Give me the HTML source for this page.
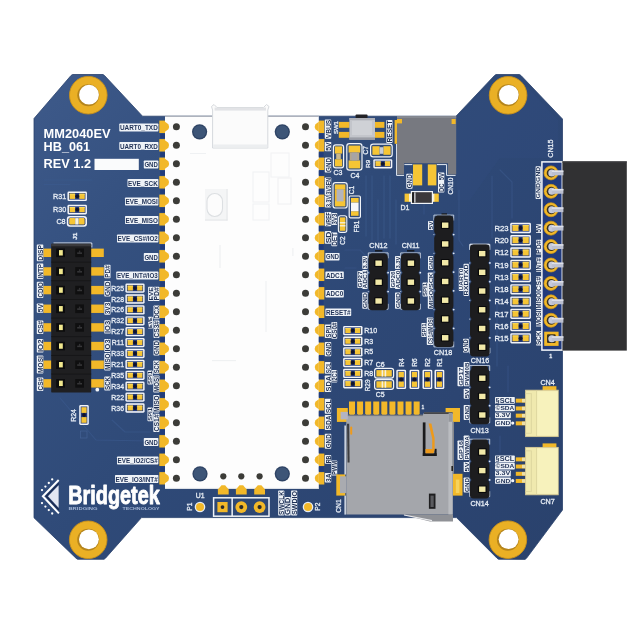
<!DOCTYPE html>
<html><head><meta charset="utf-8"><title>MM2040EV</title>
<style>html,body{margin:0;padding:0;background:#fff;}svg{display:block;filter:blur(0.4px);font-family:"Liberation Sans",sans-serif;}</style>
</head><body>
<svg width="640" height="640" viewBox="0 0 640 640" font-family="Liberation Sans, sans-serif">
<defs>
<linearGradient id="bd" gradientUnits="userSpaceOnUse" x1="40" y1="90" x2="560" y2="540"><stop offset="0" stop-color="#3d5989"/><stop offset="0.2" stop-color="#355180"/><stop offset="0.45" stop-color="#2f4a78"/><stop offset="0.75" stop-color="#2c4572"/><stop offset="1" stop-color="#2a426d"/></linearGradient>
</defs>
<rect x="0.00" y="0.00" width="640.00" height="640.00" fill="#ffffff" />
<polygon points="34,118.5 71,75.5 72.5,74.5 103,74.5 104.5,75.5 142.5,116.2 456,116.2 494.5,75.5 496,74.5 519.5,74.5 521,75.5 562.5,119 562.5,510.0 526.5,558.3 525,559.4 498.5,559.3 497,558.2 456.5,517.6 141.5,517.6 105.5,558.2 104,559.3 77.5,559.3 76,558.2 34,517.8" fill="url(#bd)" stroke="#2a416c" stroke-width="0.8" stroke-linejoin="round"/>
<path d="M44 180 H92 M44 184.5 H70 M60 398 L96 440 L150 441 M112 420 L125 432 H150" fill="none" stroke="#3d5b90" stroke-width="1.1" opacity="0.55" stroke-linecap="round" stroke-linejoin="round"/>
<path d="M366 176 V236 M372 176 V240 M378 200 V240 M384 176 V238 M390 176 V238 M396 200 V244" fill="none" stroke="#3d5b90" stroke-width="1.3" opacity="0.5" stroke-linecap="round" stroke-linejoin="round"/>
<path d="M459 190 V240 L463 246 M492 176 V238 M497 300 V366 M500 170 L512 182 V218" fill="none" stroke="#3d5b90" stroke-width="1.2" opacity="0.5" stroke-linecap="round" stroke-linejoin="round"/>
<path d="M345 250 H360 L366 256 M345 268 H356 M424 196 V214 M508 366 V392 M500 436 V452" fill="none" stroke="#3d5b90" stroke-width="1.2" opacity="0.45" stroke-linecap="round" stroke-linejoin="round"/>
<path d="M455 120 L493 80 L521 80 L558 120 L558 158 L500 158 L470 200 L457 200 Z" fill="#3d5b90" opacity="0.10"/>
<circle cx="88.30" cy="95.20" r="18.80" fill="#eab025" />
<circle cx="88.30" cy="95.20" r="18.80" fill="none" stroke="#c9911a" stroke-width="0.9"/>
<circle cx="88.30" cy="95.20" r="11.00" fill="#b5851c" />
<circle cx="89.00" cy="94.70" r="9.90" fill="#ffffff" />
<circle cx="508.10" cy="95.30" r="18.80" fill="#eab025" />
<circle cx="508.10" cy="95.30" r="18.80" fill="none" stroke="#c9911a" stroke-width="0.9"/>
<circle cx="508.10" cy="95.30" r="11.00" fill="#b5851c" />
<circle cx="508.80" cy="94.80" r="9.90" fill="#ffffff" />
<circle cx="88.20" cy="539.80" r="18.80" fill="#eab025" />
<circle cx="88.20" cy="539.80" r="18.80" fill="none" stroke="#c9911a" stroke-width="0.9"/>
<circle cx="88.20" cy="539.80" r="11.00" fill="#b5851c" />
<circle cx="88.90" cy="539.30" r="9.90" fill="#ffffff" />
<circle cx="507.90" cy="539.70" r="18.80" fill="#eab025" />
<circle cx="507.90" cy="539.70" r="18.80" fill="none" stroke="#c9911a" stroke-width="0.9"/>
<circle cx="507.90" cy="539.70" r="11.00" fill="#b5851c" />
<circle cx="508.60" cy="539.20" r="9.90" fill="#ffffff" />
<rect x="159.30" y="120.60" width="6.20" height="12.40" fill="#f2b829" />
<rect x="318.30" y="120.60" width="6.00" height="12.40" fill="#f2b829" />
<rect x="159.30" y="139.10" width="6.20" height="12.40" fill="#f2b829" />
<rect x="318.30" y="139.10" width="6.00" height="12.40" fill="#f2b829" />
<rect x="159.30" y="157.60" width="6.20" height="12.40" fill="#f2b829" />
<rect x="318.30" y="157.60" width="6.00" height="12.40" fill="#f2b829" />
<rect x="159.30" y="176.10" width="6.20" height="12.40" fill="#f2b829" />
<rect x="318.30" y="176.10" width="6.00" height="12.40" fill="#f2b829" />
<rect x="159.30" y="194.60" width="6.20" height="12.40" fill="#f2b829" />
<rect x="318.30" y="194.60" width="6.00" height="12.40" fill="#f2b829" />
<rect x="159.30" y="213.10" width="6.20" height="12.40" fill="#f2b829" />
<rect x="318.30" y="213.10" width="6.00" height="12.40" fill="#f2b829" />
<rect x="159.30" y="231.60" width="6.20" height="12.40" fill="#f2b829" />
<rect x="318.30" y="231.60" width="6.00" height="12.40" fill="#f2b829" />
<rect x="159.30" y="250.10" width="6.20" height="12.40" fill="#f2b829" />
<rect x="318.30" y="250.10" width="6.00" height="12.40" fill="#f2b829" />
<rect x="159.30" y="268.60" width="6.20" height="12.40" fill="#f2b829" />
<rect x="318.30" y="268.60" width="6.00" height="12.40" fill="#f2b829" />
<rect x="159.30" y="287.10" width="6.20" height="12.40" fill="#f2b829" />
<rect x="318.30" y="287.10" width="6.00" height="12.40" fill="#f2b829" />
<rect x="159.30" y="305.60" width="6.20" height="12.40" fill="#f2b829" />
<rect x="318.30" y="305.60" width="6.00" height="12.40" fill="#f2b829" />
<rect x="159.30" y="324.10" width="6.20" height="12.40" fill="#f2b829" />
<rect x="318.30" y="324.10" width="6.00" height="12.40" fill="#f2b829" />
<rect x="159.30" y="342.60" width="6.20" height="12.40" fill="#f2b829" />
<rect x="318.30" y="342.60" width="6.00" height="12.40" fill="#f2b829" />
<rect x="159.30" y="361.10" width="6.20" height="12.40" fill="#f2b829" />
<rect x="318.30" y="361.10" width="6.00" height="12.40" fill="#f2b829" />
<rect x="159.30" y="379.60" width="6.20" height="12.40" fill="#f2b829" />
<rect x="318.30" y="379.60" width="6.00" height="12.40" fill="#f2b829" />
<rect x="159.30" y="398.10" width="6.20" height="12.40" fill="#f2b829" />
<rect x="318.30" y="398.10" width="6.00" height="12.40" fill="#f2b829" />
<rect x="159.30" y="416.60" width="6.20" height="12.40" fill="#f2b829" />
<rect x="318.30" y="416.60" width="6.00" height="12.40" fill="#f2b829" />
<rect x="159.30" y="435.10" width="6.20" height="12.40" fill="#f2b829" />
<rect x="318.30" y="435.10" width="6.00" height="12.40" fill="#f2b829" />
<rect x="159.30" y="453.60" width="6.20" height="12.40" fill="#f2b829" />
<rect x="318.30" y="453.60" width="6.00" height="12.40" fill="#f2b829" />
<rect x="159.30" y="472.10" width="6.20" height="12.40" fill="#f2b829" />
<rect x="318.30" y="472.10" width="6.00" height="12.40" fill="#f2b829" />
<rect x="165.00" y="116.20" width="153.80" height="372.60" fill="#fdfdfd" />
<rect x="165.00" y="115.80" width="153.80" height="1.00" fill="#a3a9b3" />
<rect x="165.00" y="487.90" width="153.80" height="0.90" fill="#dfe3e8" />
<path d="M165 121.80 L168.4 124.30 Q169.8 126.80 168.4 129.30 L165 131.80 Z" fill="#f2b829"/>
<path d="M318.8 121.80 L315.4 124.30 Q314.0 126.80 315.4 129.30 L318.8 131.80 Z" fill="#f2b829"/>
<circle cx="176.40" cy="126.80" r="3.50" fill="#3c3c38" />
<circle cx="305.50" cy="126.80" r="3.50" fill="#3c3c38" />
<rect x="160.20" y="133.70" width="4.80" height="4.70" fill="#213c7c" />
<rect x="318.80" y="133.70" width="4.80" height="4.70" fill="#213c7c" />
<path d="M165 140.30 L168.4 142.80 Q169.8 145.30 168.4 147.80 L165 150.30 Z" fill="#f2b829"/>
<path d="M318.8 140.30 L315.4 142.80 Q314.0 145.30 315.4 147.80 L318.8 150.30 Z" fill="#f2b829"/>
<circle cx="176.40" cy="145.30" r="3.50" fill="#3c3c38" />
<circle cx="305.50" cy="145.30" r="3.50" fill="#3c3c38" />
<rect x="160.20" y="152.20" width="4.80" height="4.70" fill="#213c7c" />
<rect x="318.80" y="152.20" width="4.80" height="4.70" fill="#213c7c" />
<path d="M165 158.80 L168.4 161.30 Q169.8 163.80 168.4 166.30 L165 168.80 Z" fill="#f2b829"/>
<path d="M318.8 158.80 L315.4 161.30 Q314.0 163.80 315.4 166.30 L318.8 168.80 Z" fill="#f2b829"/>
<circle cx="176.40" cy="163.80" r="3.50" fill="#3c3c38" />
<circle cx="305.50" cy="163.80" r="3.50" fill="#3c3c38" />
<rect x="160.20" y="170.70" width="4.80" height="4.70" fill="#213c7c" />
<rect x="318.80" y="170.70" width="4.80" height="4.70" fill="#213c7c" />
<path d="M165 177.30 L168.4 179.80 Q169.8 182.30 168.4 184.80 L165 187.30 Z" fill="#f2b829"/>
<path d="M318.8 177.30 L315.4 179.80 Q314.0 182.30 315.4 184.80 L318.8 187.30 Z" fill="#f2b829"/>
<circle cx="176.40" cy="182.30" r="3.50" fill="#3c3c38" />
<circle cx="305.50" cy="182.30" r="3.50" fill="#3c3c38" />
<rect x="160.20" y="189.20" width="4.80" height="4.70" fill="#213c7c" />
<rect x="318.80" y="189.20" width="4.80" height="4.70" fill="#213c7c" />
<path d="M165 195.80 L168.4 198.30 Q169.8 200.80 168.4 203.30 L165 205.80 Z" fill="#f2b829"/>
<path d="M318.8 195.80 L315.4 198.30 Q314.0 200.80 315.4 203.30 L318.8 205.80 Z" fill="#f2b829"/>
<circle cx="176.40" cy="200.80" r="3.50" fill="#3c3c38" />
<circle cx="305.50" cy="200.80" r="3.50" fill="#3c3c38" />
<rect x="160.20" y="207.70" width="4.80" height="4.70" fill="#213c7c" />
<rect x="318.80" y="207.70" width="4.80" height="4.70" fill="#213c7c" />
<path d="M165 214.30 L168.4 216.80 Q169.8 219.30 168.4 221.80 L165 224.30 Z" fill="#f2b829"/>
<path d="M318.8 214.30 L315.4 216.80 Q314.0 219.30 315.4 221.80 L318.8 224.30 Z" fill="#f2b829"/>
<circle cx="176.40" cy="219.30" r="3.50" fill="#3c3c38" />
<circle cx="305.50" cy="219.30" r="3.50" fill="#3c3c38" />
<rect x="160.20" y="226.20" width="4.80" height="4.70" fill="#213c7c" />
<rect x="318.80" y="226.20" width="4.80" height="4.70" fill="#213c7c" />
<path d="M165 232.80 L168.4 235.30 Q169.8 237.80 168.4 240.30 L165 242.80 Z" fill="#f2b829"/>
<path d="M318.8 232.80 L315.4 235.30 Q314.0 237.80 315.4 240.30 L318.8 242.80 Z" fill="#f2b829"/>
<circle cx="176.40" cy="237.80" r="3.50" fill="#3c3c38" />
<circle cx="305.50" cy="237.80" r="3.50" fill="#3c3c38" />
<rect x="160.20" y="244.70" width="4.80" height="4.70" fill="#213c7c" />
<rect x="318.80" y="244.70" width="4.80" height="4.70" fill="#213c7c" />
<path d="M165 251.30 L168.4 253.80 Q169.8 256.30 168.4 258.80 L165 261.30 Z" fill="#f2b829"/>
<path d="M318.8 251.30 L315.4 253.80 Q314.0 256.30 315.4 258.80 L318.8 261.30 Z" fill="#f2b829"/>
<circle cx="176.40" cy="256.30" r="3.50" fill="#3c3c38" />
<circle cx="305.50" cy="256.30" r="3.50" fill="#3c3c38" />
<rect x="160.20" y="263.20" width="4.80" height="4.70" fill="#213c7c" />
<rect x="318.80" y="263.20" width="4.80" height="4.70" fill="#213c7c" />
<path d="M165 269.80 L168.4 272.30 Q169.8 274.80 168.4 277.30 L165 279.80 Z" fill="#f2b829"/>
<path d="M318.8 269.80 L315.4 272.30 Q314.0 274.80 315.4 277.30 L318.8 279.80 Z" fill="#f2b829"/>
<circle cx="176.40" cy="274.80" r="3.50" fill="#3c3c38" />
<circle cx="305.50" cy="274.80" r="3.50" fill="#3c3c38" />
<rect x="160.20" y="281.70" width="4.80" height="4.70" fill="#213c7c" />
<rect x="318.80" y="281.70" width="4.80" height="4.70" fill="#213c7c" />
<path d="M165 288.30 L168.4 290.80 Q169.8 293.30 168.4 295.80 L165 298.30 Z" fill="#f2b829"/>
<path d="M318.8 288.30 L315.4 290.80 Q314.0 293.30 315.4 295.80 L318.8 298.30 Z" fill="#f2b829"/>
<circle cx="176.40" cy="293.30" r="3.50" fill="#3c3c38" />
<circle cx="305.50" cy="293.30" r="3.50" fill="#3c3c38" />
<rect x="160.20" y="300.20" width="4.80" height="4.70" fill="#213c7c" />
<rect x="318.80" y="300.20" width="4.80" height="4.70" fill="#213c7c" />
<path d="M165 306.80 L168.4 309.30 Q169.8 311.80 168.4 314.30 L165 316.80 Z" fill="#f2b829"/>
<path d="M318.8 306.80 L315.4 309.30 Q314.0 311.80 315.4 314.30 L318.8 316.80 Z" fill="#f2b829"/>
<circle cx="176.40" cy="311.80" r="3.50" fill="#3c3c38" />
<circle cx="305.50" cy="311.80" r="3.50" fill="#3c3c38" />
<rect x="160.20" y="318.70" width="4.80" height="4.70" fill="#213c7c" />
<rect x="318.80" y="318.70" width="4.80" height="4.70" fill="#213c7c" />
<path d="M165 325.30 L168.4 327.80 Q169.8 330.30 168.4 332.80 L165 335.30 Z" fill="#f2b829"/>
<path d="M318.8 325.30 L315.4 327.80 Q314.0 330.30 315.4 332.80 L318.8 335.30 Z" fill="#f2b829"/>
<circle cx="176.40" cy="330.30" r="3.50" fill="#3c3c38" />
<circle cx="305.50" cy="330.30" r="3.50" fill="#3c3c38" />
<rect x="160.20" y="337.20" width="4.80" height="4.70" fill="#213c7c" />
<rect x="318.80" y="337.20" width="4.80" height="4.70" fill="#213c7c" />
<path d="M165 343.80 L168.4 346.30 Q169.8 348.80 168.4 351.30 L165 353.80 Z" fill="#f2b829"/>
<path d="M318.8 343.80 L315.4 346.30 Q314.0 348.80 315.4 351.30 L318.8 353.80 Z" fill="#f2b829"/>
<circle cx="176.40" cy="348.80" r="3.50" fill="#3c3c38" />
<circle cx="305.50" cy="348.80" r="3.50" fill="#3c3c38" />
<rect x="160.20" y="355.70" width="4.80" height="4.70" fill="#213c7c" />
<rect x="318.80" y="355.70" width="4.80" height="4.70" fill="#213c7c" />
<path d="M165 362.30 L168.4 364.80 Q169.8 367.30 168.4 369.80 L165 372.30 Z" fill="#f2b829"/>
<path d="M318.8 362.30 L315.4 364.80 Q314.0 367.30 315.4 369.80 L318.8 372.30 Z" fill="#f2b829"/>
<circle cx="176.40" cy="367.30" r="3.50" fill="#3c3c38" />
<circle cx="305.50" cy="367.30" r="3.50" fill="#3c3c38" />
<rect x="160.20" y="374.20" width="4.80" height="4.70" fill="#213c7c" />
<rect x="318.80" y="374.20" width="4.80" height="4.70" fill="#213c7c" />
<path d="M165 380.80 L168.4 383.30 Q169.8 385.80 168.4 388.30 L165 390.80 Z" fill="#f2b829"/>
<path d="M318.8 380.80 L315.4 383.30 Q314.0 385.80 315.4 388.30 L318.8 390.80 Z" fill="#f2b829"/>
<circle cx="176.40" cy="385.80" r="3.50" fill="#3c3c38" />
<circle cx="305.50" cy="385.80" r="3.50" fill="#3c3c38" />
<rect x="160.20" y="392.70" width="4.80" height="4.70" fill="#213c7c" />
<rect x="318.80" y="392.70" width="4.80" height="4.70" fill="#213c7c" />
<path d="M165 399.30 L168.4 401.80 Q169.8 404.30 168.4 406.80 L165 409.30 Z" fill="#f2b829"/>
<path d="M318.8 399.30 L315.4 401.80 Q314.0 404.30 315.4 406.80 L318.8 409.30 Z" fill="#f2b829"/>
<circle cx="176.40" cy="404.30" r="3.50" fill="#3c3c38" />
<circle cx="305.50" cy="404.30" r="3.50" fill="#3c3c38" />
<rect x="160.20" y="411.20" width="4.80" height="4.70" fill="#213c7c" />
<rect x="318.80" y="411.20" width="4.80" height="4.70" fill="#213c7c" />
<path d="M165 417.80 L168.4 420.30 Q169.8 422.80 168.4 425.30 L165 427.80 Z" fill="#f2b829"/>
<path d="M318.8 417.80 L315.4 420.30 Q314.0 422.80 315.4 425.30 L318.8 427.80 Z" fill="#f2b829"/>
<circle cx="176.40" cy="422.80" r="3.50" fill="#3c3c38" />
<circle cx="305.50" cy="422.80" r="3.50" fill="#3c3c38" />
<rect x="160.20" y="429.70" width="4.80" height="4.70" fill="#213c7c" />
<rect x="318.80" y="429.70" width="4.80" height="4.70" fill="#213c7c" />
<path d="M165 436.30 L168.4 438.80 Q169.8 441.30 168.4 443.80 L165 446.30 Z" fill="#f2b829"/>
<path d="M318.8 436.30 L315.4 438.80 Q314.0 441.30 315.4 443.80 L318.8 446.30 Z" fill="#f2b829"/>
<circle cx="176.40" cy="441.30" r="3.50" fill="#3c3c38" />
<circle cx="305.50" cy="441.30" r="3.50" fill="#3c3c38" />
<rect x="160.20" y="448.20" width="4.80" height="4.70" fill="#213c7c" />
<rect x="318.80" y="448.20" width="4.80" height="4.70" fill="#213c7c" />
<path d="M165 454.80 L168.4 457.30 Q169.8 459.80 168.4 462.30 L165 464.80 Z" fill="#f2b829"/>
<path d="M318.8 454.80 L315.4 457.30 Q314.0 459.80 315.4 462.30 L318.8 464.80 Z" fill="#f2b829"/>
<circle cx="176.40" cy="459.80" r="3.50" fill="#3c3c38" />
<circle cx="305.50" cy="459.80" r="3.50" fill="#3c3c38" />
<rect x="160.20" y="466.70" width="4.80" height="4.70" fill="#213c7c" />
<rect x="318.80" y="466.70" width="4.80" height="4.70" fill="#213c7c" />
<path d="M165 473.30 L168.4 475.80 Q169.8 478.30 168.4 480.80 L165 483.30 Z" fill="#f2b829"/>
<path d="M318.8 473.30 L315.4 475.80 Q314.0 478.30 315.4 480.80 L318.8 483.30 Z" fill="#f2b829"/>
<circle cx="176.40" cy="478.30" r="3.50" fill="#3c3c38" />
<circle cx="305.50" cy="478.30" r="3.50" fill="#3c3c38" />
<circle cx="199.60" cy="131.80" r="7.60" fill="#2e4364" />
<circle cx="199.60" cy="131.80" r="6.30" fill="#3d5577" />
<circle cx="282.30" cy="131.80" r="7.60" fill="#2e4364" />
<circle cx="282.30" cy="131.80" r="6.30" fill="#3d5577" />
<circle cx="200.00" cy="473.80" r="7.60" fill="#2e4364" />
<circle cx="200.00" cy="473.80" r="6.30" fill="#3d5577" />
<circle cx="282.30" cy="473.80" r="7.60" fill="#2e4364" />
<circle cx="282.30" cy="473.80" r="6.30" fill="#3d5577" />
<path d="M211.5 106.5 L214 104.5 L217 107.5 L263.5 107.5 L266.5 104.5 L269 106.5 L267.8 110 L267.8 148 L212.6 148 L212.6 110 Z" fill="#fbfbfb" stroke="#d6d9dd" stroke-width="1"/>
<rect x="213.20" y="144.50" width="54.20" height="3.20" fill="#eceef0" />
<rect x="214.60" y="107.60" width="51.40" height="3.00" fill="#e2e3e6" />
<rect x="205.00" y="189.00" width="22.50" height="31.50" fill="#f4f5f6" />
<rect x="207" y="193.5" width="15.5" height="23" rx="7.7" fill="#fcfcfc" stroke="#dcdfe2" stroke-width="1.1"/>
<rect x="226.60" y="189.00" width="0.90" height="31.50" fill="#e2e4e7" />
<rect x="205.00" y="219.60" width="22.50" height="0.90" fill="#e2e4e7" />
<rect x="253" y="172" width="16" height="30" rx="0" fill="none" stroke="#f0f1f3" stroke-width="1.0"/>
<rect x="253" y="204" width="16" height="16" rx="0" fill="none" stroke="#f0f1f3" stroke-width="1.0"/>
<rect x="278" y="178" width="13" height="26" rx="0" fill="none" stroke="#eff0f2" stroke-width="1.0"/>
<rect x="271" y="153" width="18" height="24" rx="0" fill="none" stroke="#f1f2f4" stroke-width="1.0"/>
<rect x="219.60" y="245.00" width="0.80" height="23.00" fill="#e6e8ea" />
<rect x="265.60" y="281.00" width="0.80" height="51.00" fill="#e9ebed" />
<rect x="212.00" y="360.30" width="24.00" height="0.80" fill="#e9ebed" />
<rect x="190.00" y="153.00" width="16.00" height="0.80" fill="#eceef0" />
<rect x="292.50" y="248.00" width="0.80" height="8.00" fill="#e9ebed" />
<circle cx="223.30" cy="476.30" r="3.10" fill="#3c3c38" />
<path d="M217.90 494.6 L217.90 489.6 L221.50 485.3 L225.10 485.3 L228.70 489.6 L228.70 494.6 Z" fill="#f2b829"/>
<circle cx="241.30" cy="476.30" r="3.10" fill="#3c3c38" />
<path d="M235.90 494.6 L235.90 489.6 L239.50 485.3 L243.10 485.3 L246.70 489.6 L246.70 494.6 Z" fill="#f2b829"/>
<circle cx="259.60" cy="476.30" r="3.10" fill="#3c3c38" />
<path d="M254.20 494.6 L254.20 489.6 L257.80 485.3 L261.40 485.3 L265.00 489.6 L265.00 494.6 Z" fill="#f2b829"/>
<text x="43.60" y="137.60" font-size="12.6" fill="#ffffff" text-anchor="start" font-weight="bold" textLength="67.00" lengthAdjust="spacingAndGlyphs" >MM2040EV</text>
<text x="43.60" y="150.60" font-size="12.6" fill="#ffffff" text-anchor="start" font-weight="bold" textLength="46.50" lengthAdjust="spacingAndGlyphs" >HB_061</text>
<text x="43.60" y="168.20" font-size="12.6" fill="#ffffff" text-anchor="start" font-weight="bold" textLength="47.50" lengthAdjust="spacingAndGlyphs" >REV 1.2</text>
<rect x="94.50" y="158.80" width="44.30" height="11.20" fill="#fafbfc" />
<rect x="119.30" y="123.50" width="39.10" height="8.00" fill="#eef2f7" rx="0.7"/>
<text x="138.85" y="130.35" font-size="7.96" fill="#1f3156" text-anchor="middle" font-weight="bold" textLength="37.90" lengthAdjust="spacingAndGlyphs" >UART0_TXD</text>
<rect x="119.30" y="142.00" width="39.10" height="8.00" fill="#eef2f7" rx="0.7"/>
<text x="138.85" y="148.85" font-size="7.96" fill="#1f3156" text-anchor="middle" font-weight="bold" textLength="37.90" lengthAdjust="spacingAndGlyphs" >UART0_RXD</text>
<rect x="143.80" y="160.50" width="14.60" height="8.00" fill="#eef2f7" rx="0.7"/>
<text x="151.10" y="167.35" font-size="7.96" fill="#1f3156" text-anchor="middle" font-weight="bold" textLength="13.40" lengthAdjust="spacingAndGlyphs" >GND</text>
<rect x="127.50" y="179.00" width="30.90" height="8.00" fill="#eef2f7" rx="0.7"/>
<text x="142.95" y="185.85" font-size="7.96" fill="#1f3156" text-anchor="middle" font-weight="bold" textLength="29.70" lengthAdjust="spacingAndGlyphs" >EVE_SCK</text>
<rect x="125.00" y="197.50" width="33.40" height="8.00" fill="#eef2f7" rx="0.7"/>
<text x="141.70" y="204.35" font-size="7.96" fill="#1f3156" text-anchor="middle" font-weight="bold" textLength="32.20" lengthAdjust="spacingAndGlyphs" >EVE_MOSI</text>
<rect x="125.00" y="216.00" width="33.40" height="8.00" fill="#eef2f7" rx="0.7"/>
<text x="141.70" y="222.85" font-size="7.96" fill="#1f3156" text-anchor="middle" font-weight="bold" textLength="32.20" lengthAdjust="spacingAndGlyphs" >EVE_MISO</text>
<rect x="117.00" y="234.50" width="41.40" height="8.00" fill="#eef2f7" rx="0.7"/>
<text x="137.70" y="241.35" font-size="7.96" fill="#1f3156" text-anchor="middle" font-weight="bold" textLength="40.20" lengthAdjust="spacingAndGlyphs" >EVE_CS#/IO2</text>
<rect x="143.80" y="253.00" width="14.60" height="8.00" fill="#eef2f7" rx="0.7"/>
<text x="151.10" y="259.85" font-size="7.96" fill="#1f3156" text-anchor="middle" font-weight="bold" textLength="13.40" lengthAdjust="spacingAndGlyphs" >GND</text>
<rect x="116.30" y="271.50" width="42.10" height="8.00" fill="#eef2f7" rx="0.7"/>
<text x="137.35" y="278.35" font-size="7.96" fill="#1f3156" text-anchor="middle" font-weight="bold" textLength="40.90" lengthAdjust="spacingAndGlyphs" >EVE_INT#/IO3</text>
<rect x="143.80" y="438.00" width="14.60" height="8.00" fill="#eef2f7" rx="0.7"/>
<text x="151.10" y="444.85" font-size="7.96" fill="#1f3156" text-anchor="middle" font-weight="bold" textLength="13.40" lengthAdjust="spacingAndGlyphs" >GND</text>
<rect x="117.00" y="456.50" width="41.40" height="8.00" fill="#eef2f7" rx="0.7"/>
<text x="137.70" y="463.35" font-size="7.96" fill="#1f3156" text-anchor="middle" font-weight="bold" textLength="40.20" lengthAdjust="spacingAndGlyphs" >EVE_IO2/CS#</text>
<rect x="115.00" y="475.00" width="43.40" height="8.00" fill="#eef2f7" rx="0.7"/>
<text x="136.70" y="481.85" font-size="7.96" fill="#1f3156" text-anchor="middle" font-weight="bold" textLength="42.20" lengthAdjust="spacingAndGlyphs" >EVE_IO3/INT#</text>
<rect x="148.10" y="286.80" width="5.70" height="14.30" fill="#eef2f7" rx="0.7"/>
<text transform="translate(150.95,293.95) rotate(-90)" x="0" y="2.20" font-size="6.15" fill="#1f3156" text-anchor="middle" font-weight="bold" textLength="13.30" lengthAdjust="spacingAndGlyphs">EVE</text>
<rect x="153.60" y="286.80" width="5.80" height="14.30" fill="#eef2f7" rx="0.7"/>
<text transform="translate(156.50,293.95) rotate(-90)" x="0" y="2.25" font-size="6.28" fill="#1f3156" text-anchor="middle" font-weight="bold" textLength="13.30" lengthAdjust="spacingAndGlyphs">PD#</text>
<rect x="153.50" y="305.50" width="5.90" height="13.80" fill="#eef2f7" rx="0.7"/>
<text transform="translate(156.45,312.40) rotate(-90)" x="0" y="2.30" font-size="6.42" fill="#1f3156" text-anchor="middle" font-weight="bold" textLength="12.80" lengthAdjust="spacingAndGlyphs">DCX</text>
<rect x="148.10" y="316.80" width="4.80" height="11.80" fill="#eef2f7" rx="0.7"/>
<text transform="translate(150.50,322.70) rotate(-90)" x="0" y="1.75" font-size="4.89" fill="#1f3156" text-anchor="middle" font-weight="bold" textLength="10.80" lengthAdjust="spacingAndGlyphs">EVE</text>
<rect x="153.50" y="320.50" width="5.90" height="17.50" fill="#eef2f7" rx="0.7"/>
<text transform="translate(156.45,329.25) rotate(-90)" x="0" y="2.30" font-size="6.42" fill="#1f3156" text-anchor="middle" font-weight="bold" textLength="16.50" lengthAdjust="spacingAndGlyphs">CS3#</text>
<rect x="153.50" y="340.50" width="5.90" height="15.00" fill="#eef2f7" rx="0.7"/>
<text transform="translate(156.45,348.00) rotate(-90)" x="0" y="2.30" font-size="6.42" fill="#1f3156" text-anchor="middle" font-weight="bold" textLength="14.00" lengthAdjust="spacingAndGlyphs">GND</text>
<rect x="153.30" y="360.60" width="6.10" height="13.20" fill="#eef2f7" rx="0.7"/>
<text transform="translate(156.35,367.20) rotate(-90)" x="0" y="2.40" font-size="6.7" fill="#1f3156" text-anchor="middle" font-weight="bold" textLength="12.20" lengthAdjust="spacingAndGlyphs">SCK</text>
<rect x="147.50" y="370.60" width="5.30" height="13.80" fill="#eef2f7" rx="0.7"/>
<text transform="translate(150.15,377.50) rotate(-90)" x="0" y="2.00" font-size="5.59" fill="#1f3156" text-anchor="middle" font-weight="bold" textLength="12.80" lengthAdjust="spacingAndGlyphs">SPI1</text>
<rect x="153.30" y="375.60" width="6.10" height="16.90" fill="#eef2f7" rx="0.7"/>
<text transform="translate(156.35,384.05) rotate(-90)" x="0" y="2.40" font-size="6.7" fill="#1f3156" text-anchor="middle" font-weight="bold" textLength="15.90" lengthAdjust="spacingAndGlyphs">MOSI</text>
<rect x="153.30" y="395.00" width="6.10" height="17.50" fill="#eef2f7" rx="0.7"/>
<text transform="translate(156.35,403.75) rotate(-90)" x="0" y="2.40" font-size="6.7" fill="#1f3156" text-anchor="middle" font-weight="bold" textLength="16.50" lengthAdjust="spacingAndGlyphs">MISO</text>
<rect x="147.50" y="407.50" width="5.30" height="13.80" fill="#eef2f7" rx="0.7"/>
<text transform="translate(150.15,414.40) rotate(-90)" x="0" y="2.00" font-size="5.59" fill="#1f3156" text-anchor="middle" font-weight="bold" textLength="12.80" lengthAdjust="spacingAndGlyphs">SPI1</text>
<rect x="153.30" y="413.80" width="6.10" height="18.20" fill="#eef2f7" rx="0.7"/>
<text transform="translate(156.35,422.90) rotate(-90)" x="0" y="2.40" font-size="6.7" fill="#1f3156" text-anchor="middle" font-weight="bold" textLength="17.20" lengthAdjust="spacingAndGlyphs">CS1#</text>
<text x="66.30" y="198.90" font-size="7.2" fill="#e6ecf4" text-anchor="end" font-weight="normal" stroke="#e6ecf4" stroke-width="0.3">R31</text>
<rect x="67.45" y="191.50" width="19.50" height="9.60" fill="#f3f5f9" rx="1.4"/>
<rect x="68.95" y="193.00" width="16.50" height="6.60" fill="#22387a" />
<rect x="69.65" y="193.70" width="5.45" height="5.20" fill="#f6c535" />
<rect x="79.30" y="193.70" width="5.45" height="5.20" fill="#f6c535" />
<rect x="69.65" y="193.70" width="5.45" height="1.00" fill="#f9d858" />
<rect x="79.30" y="193.70" width="5.45" height="1.00" fill="#f9d858" />
<circle cx="77.20" cy="196.30" r="1.90" fill="#12142a" />
<text x="66.30" y="212.20" font-size="7.2" fill="#e6ecf4" text-anchor="end" font-weight="normal" stroke="#e6ecf4" stroke-width="0.3">R30</text>
<rect x="67.45" y="204.80" width="19.50" height="9.60" fill="#f3f5f9" rx="1.4"/>
<rect x="68.95" y="206.30" width="16.50" height="6.60" fill="#22387a" />
<rect x="69.65" y="207.00" width="5.45" height="5.20" fill="#f6c535" />
<rect x="79.30" y="207.00" width="5.45" height="5.20" fill="#f6c535" />
<rect x="69.65" y="207.00" width="5.45" height="1.00" fill="#f9d858" />
<rect x="79.30" y="207.00" width="5.45" height="1.00" fill="#f9d858" />
<circle cx="77.20" cy="209.60" r="1.90" fill="#12142a" />
<text x="65.60" y="224.00" font-size="7.2" fill="#e6ecf4" text-anchor="end" font-weight="normal" stroke="#e6ecf4" stroke-width="0.3">C8</text>
<rect x="66.80" y="215.90" width="20.20" height="10.90" fill="#f3f5f9" rx="3"/>
<rect x="68.40" y="217.50" width="17.00" height="7.70" fill="#22387a" rx="1.8"/>
<rect x="69.20" y="218.10" width="6.00" height="6.50" fill="#f6c535" rx="0.8"/>
<rect x="78.60" y="218.10" width="6.00" height="6.50" fill="#f6c535" rx="0.8"/>
<rect x="75.20" y="218.10" width="3.40" height="6.50" fill="#f6f1dc" />
<text transform="translate(74.40,236.20) rotate(-90)" x="0" y="2.22" font-size="6.2" fill="#e6ecf4" text-anchor="middle" font-weight="bold" stroke="#e6ecf4" stroke-width="0.3">J1</text>
<rect x="43.40" y="248.60" width="8.20" height="8.40" fill="#f2b829" />
<rect x="90.80" y="248.60" width="13.00" height="8.40" fill="#f2b829" />
<rect x="43.40" y="267.25" width="8.20" height="8.40" fill="#f2b829" />
<rect x="90.80" y="267.25" width="13.00" height="8.40" fill="#f2b829" />
<rect x="43.40" y="285.90" width="8.20" height="8.40" fill="#f2b829" />
<rect x="90.80" y="285.90" width="13.00" height="8.40" fill="#f2b829" />
<rect x="43.40" y="304.55" width="8.20" height="8.40" fill="#f2b829" />
<rect x="90.80" y="304.55" width="13.00" height="8.40" fill="#f2b829" />
<rect x="43.40" y="323.20" width="8.20" height="8.40" fill="#f2b829" />
<rect x="90.80" y="323.20" width="13.00" height="8.40" fill="#f2b829" />
<rect x="43.40" y="341.85" width="8.20" height="8.40" fill="#f2b829" />
<rect x="90.80" y="341.85" width="13.00" height="8.40" fill="#f2b829" />
<rect x="43.40" y="360.50" width="8.20" height="8.40" fill="#f2b829" />
<rect x="90.80" y="360.50" width="13.00" height="8.40" fill="#f2b829" />
<rect x="43.40" y="379.15" width="8.20" height="8.40" fill="#f2b829" />
<rect x="90.80" y="379.15" width="13.00" height="8.40" fill="#f2b829" />
<path d="M53.5 243.0 L91.8 243.0 L91.8 247.5" fill="none" stroke="#e6ecf4" stroke-width="1"/>
<rect x="51.20" y="243.70" width="40.00" height="148.90" fill="#1f1f21" rx="1.2"/>
<rect x="51.20" y="243.70" width="40.00" height="2.60" fill="#3a3a3d" />
<rect x="56.20" y="248.50" width="8.80" height="8.60" fill="#0b0b0c" />
<rect x="59.00" y="250.10" width="3.80" height="5.40" fill="#f1e88e" />
<rect x="75.20" y="248.50" width="8.80" height="8.60" fill="#0f0f10" />
<rect x="77.20" y="252.40" width="4.80" height="1.50" fill="#38383a" />
<rect x="78.90" y="250.60" width="1.40" height="2.40" fill="#303032" />
<rect x="51.20" y="261.73" width="40.00" height="0.80" fill="#151516" />
<rect x="56.20" y="267.15" width="8.80" height="8.60" fill="#0b0b0c" />
<rect x="59.00" y="268.75" width="3.80" height="5.40" fill="#f1e88e" />
<rect x="75.20" y="267.15" width="8.80" height="8.60" fill="#0f0f10" />
<rect x="77.20" y="271.05" width="4.80" height="1.50" fill="#38383a" />
<rect x="78.90" y="269.25" width="1.40" height="2.40" fill="#303032" />
<rect x="51.20" y="280.38" width="40.00" height="0.80" fill="#151516" />
<rect x="56.20" y="285.80" width="8.80" height="8.60" fill="#0b0b0c" />
<rect x="59.00" y="287.40" width="3.80" height="5.40" fill="#f1e88e" />
<rect x="75.20" y="285.80" width="8.80" height="8.60" fill="#0f0f10" />
<rect x="77.20" y="289.70" width="4.80" height="1.50" fill="#38383a" />
<rect x="78.90" y="287.90" width="1.40" height="2.40" fill="#303032" />
<rect x="51.20" y="299.03" width="40.00" height="0.80" fill="#151516" />
<rect x="56.20" y="304.45" width="8.80" height="8.60" fill="#0b0b0c" />
<rect x="59.00" y="306.05" width="3.80" height="5.40" fill="#f1e88e" />
<rect x="75.20" y="304.45" width="8.80" height="8.60" fill="#0f0f10" />
<rect x="77.20" y="308.35" width="4.80" height="1.50" fill="#38383a" />
<rect x="78.90" y="306.55" width="1.40" height="2.40" fill="#303032" />
<rect x="51.20" y="317.68" width="40.00" height="0.80" fill="#151516" />
<rect x="56.20" y="323.10" width="8.80" height="8.60" fill="#0b0b0c" />
<rect x="59.00" y="324.70" width="3.80" height="5.40" fill="#f1e88e" />
<rect x="75.20" y="323.10" width="8.80" height="8.60" fill="#0f0f10" />
<rect x="77.20" y="327.00" width="4.80" height="1.50" fill="#38383a" />
<rect x="78.90" y="325.20" width="1.40" height="2.40" fill="#303032" />
<rect x="51.20" y="336.32" width="40.00" height="0.80" fill="#151516" />
<rect x="56.20" y="341.75" width="8.80" height="8.60" fill="#0b0b0c" />
<rect x="59.00" y="343.35" width="3.80" height="5.40" fill="#f1e88e" />
<rect x="75.20" y="341.75" width="8.80" height="8.60" fill="#0f0f10" />
<rect x="77.20" y="345.65" width="4.80" height="1.50" fill="#38383a" />
<rect x="78.90" y="343.85" width="1.40" height="2.40" fill="#303032" />
<rect x="51.20" y="354.98" width="40.00" height="0.80" fill="#151516" />
<rect x="56.20" y="360.40" width="8.80" height="8.60" fill="#0b0b0c" />
<rect x="59.00" y="362.00" width="3.80" height="5.40" fill="#f1e88e" />
<rect x="75.20" y="360.40" width="8.80" height="8.60" fill="#0f0f10" />
<rect x="77.20" y="364.30" width="4.80" height="1.50" fill="#38383a" />
<rect x="78.90" y="362.50" width="1.40" height="2.40" fill="#303032" />
<rect x="51.20" y="373.62" width="40.00" height="0.80" fill="#151516" />
<rect x="56.20" y="379.05" width="8.80" height="8.60" fill="#0b0b0c" />
<rect x="59.00" y="380.65" width="3.80" height="5.40" fill="#f1e88e" />
<rect x="75.20" y="379.05" width="8.80" height="8.60" fill="#0f0f10" />
<rect x="77.20" y="382.95" width="4.80" height="1.50" fill="#38383a" />
<rect x="78.90" y="381.15" width="1.40" height="2.40" fill="#303032" />
<rect x="36.80" y="244.40" width="6.50" height="16.90" fill="#eef2f7" rx="0.7"/>
<text transform="translate(40.05,252.85) rotate(-90)" x="0" y="2.60" font-size="7.26" fill="#1f3156" text-anchor="middle" font-weight="bold" textLength="15.90" lengthAdjust="spacingAndGlyphs">DISP</text>
<rect x="36.80" y="263.40" width="6.50" height="15.50" fill="#eef2f7" rx="0.7"/>
<text transform="translate(40.05,271.15) rotate(-90)" x="0" y="2.60" font-size="7.26" fill="#1f3156" text-anchor="middle" font-weight="bold" textLength="14.50" lengthAdjust="spacingAndGlyphs">INTP</text>
<rect x="36.80" y="281.70" width="6.50" height="16.20" fill="#eef2f7" rx="0.7"/>
<text transform="translate(40.05,289.80) rotate(-90)" x="0" y="2.60" font-size="7.26" fill="#1f3156" text-anchor="middle" font-weight="bold" textLength="15.20" lengthAdjust="spacingAndGlyphs">CDIO</text>
<rect x="36.80" y="303.50" width="6.50" height="9.20" fill="#eef2f7" rx="0.7"/>
<text transform="translate(40.05,308.10) rotate(-90)" x="0" y="2.60" font-size="7.26" fill="#1f3156" text-anchor="middle" font-weight="bold" textLength="8.20" lengthAdjust="spacingAndGlyphs">5V</text>
<rect x="36.80" y="320.50" width="6.50" height="13.50" fill="#eef2f7" rx="0.7"/>
<text transform="translate(40.05,327.25) rotate(-90)" x="0" y="2.60" font-size="7.26" fill="#1f3156" text-anchor="middle" font-weight="bold" textLength="12.50" lengthAdjust="spacingAndGlyphs">CS#</text>
<rect x="36.80" y="339.00" width="6.50" height="13.60" fill="#eef2f7" rx="0.7"/>
<text transform="translate(40.05,345.80) rotate(-90)" x="0" y="2.60" font-size="7.26" fill="#1f3156" text-anchor="middle" font-weight="bold" textLength="12.60" lengthAdjust="spacingAndGlyphs">IO2</text>
<rect x="36.80" y="355.60" width="6.50" height="17.80" fill="#eef2f7" rx="0.7"/>
<text transform="translate(40.05,364.50) rotate(-90)" x="0" y="2.60" font-size="7.26" fill="#1f3156" text-anchor="middle" font-weight="bold" textLength="16.80" lengthAdjust="spacingAndGlyphs">MOSI</text>
<rect x="36.80" y="377.50" width="6.50" height="13.50" fill="#eef2f7" rx="0.7"/>
<text transform="translate(40.05,384.25) rotate(-90)" x="0" y="2.60" font-size="7.26" fill="#1f3156" text-anchor="middle" font-weight="bold" textLength="12.50" lengthAdjust="spacingAndGlyphs">CS#</text>
<rect x="104.30" y="264.80" width="6.20" height="13.40" fill="#eef2f7" rx="0.7"/>
<text transform="translate(107.40,271.50) rotate(-90)" x="0" y="2.45" font-size="6.84" fill="#1f3156" text-anchor="middle" font-weight="bold" textLength="12.40" lengthAdjust="spacingAndGlyphs">PD#</text>
<rect x="104.30" y="281.00" width="6.20" height="15.50" fill="#eef2f7" rx="0.7"/>
<text transform="translate(107.40,288.75) rotate(-90)" x="0" y="2.45" font-size="6.84" fill="#1f3156" text-anchor="middle" font-weight="bold" textLength="14.50" lengthAdjust="spacingAndGlyphs">GND</text>
<rect x="104.30" y="302.10" width="6.20" height="12.70" fill="#eef2f7" rx="0.7"/>
<text transform="translate(107.40,308.45) rotate(-90)" x="0" y="2.45" font-size="6.84" fill="#1f3156" text-anchor="middle" font-weight="bold" textLength="11.70" lengthAdjust="spacingAndGlyphs">3V3</text>
<rect x="104.30" y="320.30" width="6.20" height="13.30" fill="#eef2f7" rx="0.7"/>
<text transform="translate(107.40,326.95) rotate(-90)" x="0" y="2.45" font-size="6.84" fill="#1f3156" text-anchor="middle" font-weight="bold" textLength="12.30" lengthAdjust="spacingAndGlyphs">IO3</text>
<rect x="104.30" y="338.90" width="6.20" height="13.10" fill="#eef2f7" rx="0.7"/>
<text transform="translate(107.40,345.45) rotate(-90)" x="0" y="2.45" font-size="6.84" fill="#1f3156" text-anchor="middle" font-weight="bold" textLength="12.10" lengthAdjust="spacingAndGlyphs">IO3</text>
<rect x="104.30" y="353.00" width="6.20" height="17.40" fill="#eef2f7" rx="0.7"/>
<text transform="translate(107.40,361.70) rotate(-90)" x="0" y="2.45" font-size="6.84" fill="#1f3156" text-anchor="middle" font-weight="bold" textLength="16.40" lengthAdjust="spacingAndGlyphs">MISO</text>
<rect x="104.30" y="376.40" width="6.20" height="14.10" fill="#eef2f7" rx="0.7"/>
<text transform="translate(107.40,383.45) rotate(-90)" x="0" y="2.45" font-size="6.84" fill="#1f3156" text-anchor="middle" font-weight="bold" textLength="13.10" lengthAdjust="spacingAndGlyphs">SCK</text>
<text x="124.00" y="290.60" font-size="6.9" fill="#e6ecf4" text-anchor="end" font-weight="normal" stroke="#e6ecf4" stroke-width="0.3">R25</text>
<rect x="125.40" y="283.45" width="19.20" height="9.30" fill="#f3f5f9" rx="1.4"/>
<rect x="126.90" y="284.95" width="16.20" height="6.30" fill="#22387a" />
<rect x="127.60" y="285.65" width="5.30" height="4.90" fill="#f6c535" />
<rect x="137.10" y="285.65" width="5.30" height="4.90" fill="#f6c535" />
<rect x="127.60" y="285.65" width="5.30" height="1.00" fill="#f9d858" />
<rect x="137.10" y="285.65" width="5.30" height="1.00" fill="#f9d858" />
<circle cx="135.00" cy="288.10" r="1.90" fill="#12142a" />
<text x="124.00" y="301.50" font-size="6.9" fill="#e6ecf4" text-anchor="end" font-weight="normal" stroke="#e6ecf4" stroke-width="0.3">R28</text>
<rect x="125.40" y="294.35" width="19.20" height="9.30" fill="#f3f5f9" rx="1.4"/>
<rect x="126.90" y="295.85" width="16.20" height="6.30" fill="#22387a" />
<rect x="127.60" y="296.55" width="5.30" height="4.90" fill="#f6c535" />
<rect x="137.10" y="296.55" width="5.30" height="4.90" fill="#f6c535" />
<rect x="127.60" y="296.55" width="5.30" height="1.00" fill="#f9d858" />
<rect x="137.10" y="296.55" width="5.30" height="1.00" fill="#f9d858" />
<circle cx="135.00" cy="299.00" r="1.90" fill="#12142a" />
<text x="124.00" y="312.40" font-size="6.9" fill="#e6ecf4" text-anchor="end" font-weight="normal" stroke="#e6ecf4" stroke-width="0.3">R26</text>
<rect x="125.40" y="305.25" width="19.20" height="9.30" fill="#f3f5f9" rx="1.4"/>
<rect x="126.90" y="306.75" width="16.20" height="6.30" fill="#22387a" />
<rect x="127.60" y="307.45" width="5.30" height="4.90" fill="#f6c535" />
<rect x="137.10" y="307.45" width="5.30" height="4.90" fill="#f6c535" />
<rect x="127.60" y="307.45" width="5.30" height="1.00" fill="#f9d858" />
<rect x="137.10" y="307.45" width="5.30" height="1.00" fill="#f9d858" />
<circle cx="135.00" cy="309.90" r="1.90" fill="#12142a" />
<text x="124.00" y="323.30" font-size="6.9" fill="#e6ecf4" text-anchor="end" font-weight="normal" stroke="#e6ecf4" stroke-width="0.3">R32</text>
<rect x="125.40" y="316.15" width="19.20" height="9.30" fill="#f3f5f9" rx="1.4"/>
<rect x="126.90" y="317.65" width="16.20" height="6.30" fill="#22387a" />
<rect x="127.60" y="318.35" width="5.30" height="4.90" fill="#f6c535" />
<rect x="137.10" y="318.35" width="5.30" height="4.90" fill="#f6c535" />
<rect x="127.60" y="318.35" width="5.30" height="1.00" fill="#f9d858" />
<rect x="137.10" y="318.35" width="5.30" height="1.00" fill="#f9d858" />
<circle cx="135.00" cy="320.80" r="1.90" fill="#12142a" />
<text x="124.00" y="334.20" font-size="6.9" fill="#e6ecf4" text-anchor="end" font-weight="normal" stroke="#e6ecf4" stroke-width="0.3">R27</text>
<rect x="125.40" y="327.05" width="19.20" height="9.30" fill="#f3f5f9" rx="1.4"/>
<rect x="126.90" y="328.55" width="16.20" height="6.30" fill="#22387a" />
<rect x="127.60" y="329.25" width="5.30" height="4.90" fill="#f6c535" />
<rect x="137.10" y="329.25" width="5.30" height="4.90" fill="#f6c535" />
<rect x="127.60" y="329.25" width="5.30" height="1.00" fill="#f9d858" />
<rect x="137.10" y="329.25" width="5.30" height="1.00" fill="#f9d858" />
<circle cx="135.00" cy="331.70" r="1.90" fill="#12142a" />
<text x="124.00" y="345.10" font-size="6.9" fill="#e6ecf4" text-anchor="end" font-weight="normal" stroke="#e6ecf4" stroke-width="0.3">R11</text>
<rect x="125.40" y="337.95" width="19.20" height="9.30" fill="#f3f5f9" rx="1.4"/>
<rect x="126.90" y="339.45" width="16.20" height="6.30" fill="#22387a" />
<rect x="127.60" y="340.15" width="5.30" height="4.90" fill="#f6c535" />
<rect x="137.10" y="340.15" width="5.30" height="4.90" fill="#f6c535" />
<rect x="127.60" y="340.15" width="5.30" height="1.00" fill="#f9d858" />
<rect x="137.10" y="340.15" width="5.30" height="1.00" fill="#f9d858" />
<circle cx="135.00" cy="342.60" r="1.90" fill="#12142a" />
<text x="124.00" y="356.00" font-size="6.9" fill="#e6ecf4" text-anchor="end" font-weight="normal" stroke="#e6ecf4" stroke-width="0.3">R33</text>
<rect x="125.40" y="348.85" width="19.20" height="9.30" fill="#f3f5f9" rx="1.4"/>
<rect x="126.90" y="350.35" width="16.20" height="6.30" fill="#22387a" />
<rect x="127.60" y="351.05" width="5.30" height="4.90" fill="#f6c535" />
<rect x="137.10" y="351.05" width="5.30" height="4.90" fill="#f6c535" />
<rect x="127.60" y="351.05" width="5.30" height="1.00" fill="#f9d858" />
<rect x="137.10" y="351.05" width="5.30" height="1.00" fill="#f9d858" />
<circle cx="135.00" cy="353.50" r="1.90" fill="#12142a" />
<text x="124.00" y="366.90" font-size="6.9" fill="#e6ecf4" text-anchor="end" font-weight="normal" stroke="#e6ecf4" stroke-width="0.3">R21</text>
<rect x="125.40" y="359.75" width="19.20" height="9.30" fill="#f3f5f9" rx="1.4"/>
<rect x="126.90" y="361.25" width="16.20" height="6.30" fill="#22387a" />
<rect x="127.60" y="361.95" width="5.30" height="4.90" fill="#f6c535" />
<rect x="137.10" y="361.95" width="5.30" height="4.90" fill="#f6c535" />
<rect x="127.60" y="361.95" width="5.30" height="1.00" fill="#f9d858" />
<rect x="137.10" y="361.95" width="5.30" height="1.00" fill="#f9d858" />
<circle cx="135.00" cy="364.40" r="1.90" fill="#12142a" />
<text x="124.00" y="377.80" font-size="6.9" fill="#e6ecf4" text-anchor="end" font-weight="normal" stroke="#e6ecf4" stroke-width="0.3">R35</text>
<rect x="125.40" y="370.65" width="19.20" height="9.30" fill="#f3f5f9" rx="1.4"/>
<rect x="126.90" y="372.15" width="16.20" height="6.30" fill="#22387a" />
<rect x="127.60" y="372.85" width="5.30" height="4.90" fill="#f6c535" />
<rect x="137.10" y="372.85" width="5.30" height="4.90" fill="#f6c535" />
<rect x="127.60" y="372.85" width="5.30" height="1.00" fill="#f9d858" />
<rect x="137.10" y="372.85" width="5.30" height="1.00" fill="#f9d858" />
<circle cx="135.00" cy="375.30" r="1.90" fill="#12142a" />
<text x="124.00" y="388.70" font-size="6.9" fill="#e6ecf4" text-anchor="end" font-weight="normal" stroke="#e6ecf4" stroke-width="0.3">R34</text>
<rect x="125.40" y="381.55" width="19.20" height="9.30" fill="#f3f5f9" rx="1.4"/>
<rect x="126.90" y="383.05" width="16.20" height="6.30" fill="#22387a" />
<rect x="127.60" y="383.75" width="5.30" height="4.90" fill="#f6c535" />
<rect x="137.10" y="383.75" width="5.30" height="4.90" fill="#f6c535" />
<rect x="127.60" y="383.75" width="5.30" height="1.00" fill="#f9d858" />
<rect x="137.10" y="383.75" width="5.30" height="1.00" fill="#f9d858" />
<circle cx="135.00" cy="386.20" r="1.90" fill="#12142a" />
<text x="124.00" y="399.60" font-size="6.9" fill="#e6ecf4" text-anchor="end" font-weight="normal" stroke="#e6ecf4" stroke-width="0.3">R22</text>
<rect x="125.40" y="392.45" width="19.20" height="9.30" fill="#f3f5f9" rx="1.4"/>
<rect x="126.90" y="393.95" width="16.20" height="6.30" fill="#22387a" />
<rect x="127.60" y="394.65" width="5.30" height="4.90" fill="#f6c535" />
<rect x="137.10" y="394.65" width="5.30" height="4.90" fill="#f6c535" />
<rect x="127.60" y="394.65" width="5.30" height="1.00" fill="#f9d858" />
<rect x="137.10" y="394.65" width="5.30" height="1.00" fill="#f9d858" />
<circle cx="135.00" cy="397.10" r="1.90" fill="#12142a" />
<text x="124.00" y="410.50" font-size="6.9" fill="#e6ecf4" text-anchor="end" font-weight="normal" stroke="#e6ecf4" stroke-width="0.3">R36</text>
<rect x="125.40" y="403.35" width="19.20" height="9.30" fill="#f3f5f9" rx="1.4"/>
<rect x="126.90" y="404.85" width="16.20" height="6.30" fill="#22387a" />
<rect x="127.60" y="405.55" width="5.30" height="4.90" fill="#f6c535" />
<rect x="137.10" y="405.55" width="5.30" height="4.90" fill="#f6c535" />
<rect x="127.60" y="405.55" width="5.30" height="1.00" fill="#f9d858" />
<rect x="137.10" y="405.55" width="5.30" height="1.00" fill="#f9d858" />
<circle cx="135.00" cy="408.00" r="1.90" fill="#12142a" />
<text transform="translate(73.60,415.50) rotate(-90)" x="0" y="2.47" font-size="6.9" fill="#e6ecf4" text-anchor="middle" font-weight="normal" stroke="#e6ecf4" stroke-width="0.3">R24</text>
<rect x="79.20" y="405.00" width="9.60" height="20.00" fill="#f3f5f9" rx="1.4"/>
<rect x="80.70" y="406.50" width="6.60" height="17.00" fill="#22387a" />
<rect x="81.40" y="407.20" width="5.20" height="5.70" fill="#f6c535" />
<rect x="81.40" y="417.10" width="5.20" height="5.70" fill="#f6c535" />
<circle cx="84.00" cy="415.00" r="1.90" fill="#12142a" />
<circle cx="97.30" cy="389.70" r="1.90" fill="#f4f6fa" />
<rect x="80.50" y="431.00" width="6.50" height="7.00" fill="none" stroke="#4a6aa0" stroke-width="0.7" opacity="0.7"/>
<path d="M58.7 480.0 L42.9 496.3 L58.9 513.4" fill="none" stroke="#ffffff" stroke-width="2.0" stroke-linejoin="miter"/>
<path d="M58.8 483.4 L46.3 496.3 L58.8 509.8" fill="none" stroke="#1b2a4f" stroke-width="1.3"/>
<path d="M58.6 485.2 L48.0 496.3 L58.6 507.8 Z" fill="#e4e7f1"/>
<circle cx="52.20" cy="479.40" r="1.15" fill="#ffffff" />
<circle cx="48.80" cy="483.00" r="1.15" fill="#ffffff" />
<circle cx="45.40" cy="486.60" r="1.15" fill="#ffffff" />
<circle cx="42.00" cy="490.10" r="1.15" fill="#ffffff" />
<circle cx="42.00" cy="503.10" r="1.15" fill="#ffffff" />
<circle cx="45.40" cy="506.60" r="1.15" fill="#ffffff" />
<circle cx="48.80" cy="510.10" r="1.15" fill="#ffffff" />
<circle cx="52.20" cy="513.50" r="1.15" fill="#ffffff" />
<text x="68.20" y="503.50" font-size="25.6" fill="#ffffff" text-anchor="start" font-weight="bold" textLength="91.60" lengthAdjust="spacingAndGlyphs" stroke="#ffffff" stroke-width="0.9" stroke-linejoin="round">Bridgetek</text>
<text x="68.40" y="510.10" font-size="3.4" fill="#a3b6d6" text-anchor="start" font-weight="bold" textLength="29.20" lengthAdjust="spacingAndGlyphs" >BRIDGING</text>
<text x="122.60" y="510.10" font-size="3.4" fill="#a3b6d6" text-anchor="start" font-weight="bold" textLength="37.00" lengthAdjust="spacingAndGlyphs" >TECHNOLOGY</text>
<text x="200.20" y="497.80" font-size="6.9" fill="#e6ecf4" text-anchor="middle" font-weight="normal" stroke="#e6ecf4" stroke-width="0.3">U1</text>
<text transform="translate(189.30,506.60) rotate(-90)" x="0" y="2.36" font-size="6.6" fill="#e6ecf4" text-anchor="middle" font-weight="normal" stroke="#e6ecf4" stroke-width="0.3">P1</text>
<circle cx="200.00" cy="507.00" r="5.30" fill="#e6ecf4" />
<circle cx="200.00" cy="507.00" r="4.00" fill="#f2b829" />
<circle cx="308.00" cy="507.00" r="5.30" fill="#e6ecf4" />
<circle cx="308.00" cy="507.00" r="4.00" fill="#f2b829" />
<text transform="translate(317.60,506.60) rotate(-90)" x="0" y="2.36" font-size="6.6" fill="#e6ecf4" text-anchor="middle" font-weight="normal" stroke="#e6ecf4" stroke-width="0.3">P2</text>
<rect x="213.6" y="497.8" width="55.4" height="18.4" fill="none" stroke="#f1f4f8" stroke-width="1.5"/>
<rect x="231.40" y="497.80" width="1.50" height="18.40" fill="#f1f4f8" />
<rect x="217.40" y="502.00" width="10.20" height="10.20" fill="#f2b829" />
<circle cx="222.50" cy="507.10" r="1.90" fill="#2a2a2a" />
<circle cx="241.30" cy="507.10" r="5.90" fill="#f2b829" />
<circle cx="241.30" cy="507.10" r="2.10" fill="#2a2a2a" />
<circle cx="259.60" cy="507.10" r="5.90" fill="#f2b829" />
<circle cx="259.60" cy="507.10" r="2.10" fill="#2a2a2a" />
<rect x="278.20" y="490.60" width="6.10" height="24.80" fill="#eef2f7" rx="0.7"/>
<text transform="translate(281.25,503.00) rotate(-90)" x="0" y="2.40" font-size="6.7" fill="#1f3156" text-anchor="middle" font-weight="bold" textLength="23.80" lengthAdjust="spacingAndGlyphs">SWCLK</text>
<rect x="284.70" y="497.00" width="6.00" height="18.40" fill="#eef2f7" rx="0.7"/>
<text transform="translate(287.70,506.20) rotate(-90)" x="0" y="2.35" font-size="6.56" fill="#1f3156" text-anchor="middle" font-weight="bold" textLength="17.40" lengthAdjust="spacingAndGlyphs">GND</text>
<rect x="291.10" y="490.60" width="6.10" height="24.80" fill="#eef2f7" rx="0.7"/>
<text transform="translate(294.15,503.00) rotate(-90)" x="0" y="2.40" font-size="6.7" fill="#1f3156" text-anchor="middle" font-weight="bold" textLength="23.80" lengthAdjust="spacingAndGlyphs">SWDIO</text>
<rect x="325.40" y="252.90" width="14.10" height="7.60" fill="#eef2f7" rx="0.7"/>
<text x="332.45" y="259.35" font-size="7.40" fill="#1f3156" text-anchor="middle" font-weight="bold" textLength="12.90" lengthAdjust="spacingAndGlyphs" >GND</text>
<rect x="325.40" y="271.40" width="18.40" height="7.60" fill="#eef2f7" rx="0.7"/>
<text x="334.60" y="277.85" font-size="7.40" fill="#1f3156" text-anchor="middle" font-weight="bold" textLength="17.20" lengthAdjust="spacingAndGlyphs" >ADC1</text>
<rect x="325.40" y="289.90" width="18.40" height="7.60" fill="#eef2f7" rx="0.7"/>
<text x="334.60" y="296.35" font-size="7.40" fill="#1f3156" text-anchor="middle" font-weight="bold" textLength="17.20" lengthAdjust="spacingAndGlyphs" >ADC0</text>
<rect x="325.40" y="308.40" width="25.80" height="7.60" fill="#eef2f7" rx="0.7"/>
<text x="338.30" y="314.85" font-size="7.40" fill="#1f3156" text-anchor="middle" font-weight="bold" textLength="24.60" lengthAdjust="spacingAndGlyphs" >RESET#</text>
<rect x="324.80" y="119.40" width="6.40" height="19.40" fill="#eef2f7" rx="0.7"/>
<text transform="translate(328.00,129.10) rotate(-90)" x="0" y="2.55" font-size="7.12" fill="#1f3156" text-anchor="middle" font-weight="bold" textLength="18.40" lengthAdjust="spacingAndGlyphs">VBUS</text>
<rect x="324.80" y="141.90" width="6.40" height="9.40" fill="#eef2f7" rx="0.7"/>
<text transform="translate(328.00,146.60) rotate(-90)" x="0" y="2.55" font-size="7.12" fill="#1f3156" text-anchor="middle" font-weight="bold" textLength="8.40" lengthAdjust="spacingAndGlyphs">5V</text>
<rect x="324.80" y="157.50" width="6.40" height="15.00" fill="#eef2f7" rx="0.7"/>
<text transform="translate(328.00,165.00) rotate(-90)" x="0" y="2.55" font-size="7.12" fill="#1f3156" text-anchor="middle" font-weight="bold" textLength="14.00" lengthAdjust="spacingAndGlyphs">GND</text>
<rect x="324.80" y="177.50" width="6.40" height="17.50" fill="#eef2f7" rx="0.7"/>
<text transform="translate(328.00,186.25) rotate(-90)" x="0" y="2.55" font-size="7.12" fill="#1f3156" text-anchor="middle" font-weight="bold" textLength="16.50" lengthAdjust="spacingAndGlyphs">3V3EN</text>
<rect x="324.80" y="195.60" width="6.40" height="11.90" fill="#eef2f7" rx="0.7"/>
<text transform="translate(328.00,201.55) rotate(-90)" x="0" y="2.55" font-size="7.12" fill="#1f3156" text-anchor="middle" font-weight="bold" textLength="10.90" lengthAdjust="spacingAndGlyphs">3.3V</text>
<rect x="324.80" y="211.90" width="6.40" height="14.40" fill="#eef2f7" rx="0.7"/>
<text transform="translate(328.00,219.10) rotate(-90)" x="0" y="2.55" font-size="7.12" fill="#1f3156" text-anchor="middle" font-weight="bold" textLength="13.40" lengthAdjust="spacingAndGlyphs">VREF</text>
<rect x="324.80" y="231.00" width="6.40" height="12.80" fill="#eef2f7" rx="0.7"/>
<text transform="translate(328.00,237.40) rotate(-90)" x="0" y="2.55" font-size="7.12" fill="#1f3156" text-anchor="middle" font-weight="bold" textLength="11.80" lengthAdjust="spacingAndGlyphs">SD</text>
<rect x="324.80" y="324.40" width="6.40" height="13.60" fill="#eef2f7" rx="0.7"/>
<text transform="translate(328.00,331.20) rotate(-90)" x="0" y="2.55" font-size="7.12" fill="#1f3156" text-anchor="middle" font-weight="bold" textLength="12.60" lengthAdjust="spacingAndGlyphs">SPI1</text>
<rect x="324.80" y="342.00" width="6.40" height="14.30" fill="#eef2f7" rx="0.7"/>
<text transform="translate(328.00,349.15) rotate(-90)" x="0" y="2.55" font-size="7.12" fill="#1f3156" text-anchor="middle" font-weight="bold" textLength="13.30" lengthAdjust="spacingAndGlyphs">GND</text>
<rect x="324.80" y="362.00" width="6.40" height="11.80" fill="#eef2f7" rx="0.7"/>
<text transform="translate(328.00,367.90) rotate(-90)" x="0" y="2.55" font-size="7.12" fill="#1f3156" text-anchor="middle" font-weight="bold" textLength="10.80" lengthAdjust="spacingAndGlyphs">SCL</text>
<rect x="324.80" y="375.60" width="6.40" height="16.40" fill="#eef2f7" rx="0.7"/>
<text transform="translate(328.00,383.80) rotate(-90)" x="0" y="2.55" font-size="7.12" fill="#1f3156" text-anchor="middle" font-weight="bold" textLength="15.40" lengthAdjust="spacingAndGlyphs">SDA</text>
<rect x="324.80" y="398.80" width="6.40" height="15.00" fill="#eef2f7" rx="0.7"/>
<text transform="translate(328.00,406.30) rotate(-90)" x="0" y="2.55" font-size="7.12" fill="#1f3156" text-anchor="middle" font-weight="bold" textLength="14.00" lengthAdjust="spacingAndGlyphs">SCL</text>
<rect x="324.80" y="415.00" width="6.40" height="15.00" fill="#eef2f7" rx="0.7"/>
<text transform="translate(328.00,422.50) rotate(-90)" x="0" y="2.55" font-size="7.12" fill="#1f3156" text-anchor="middle" font-weight="bold" textLength="14.00" lengthAdjust="spacingAndGlyphs">SDA</text>
<rect x="324.80" y="433.80" width="6.40" height="15.00" fill="#eef2f7" rx="0.7"/>
<text transform="translate(328.00,441.30) rotate(-90)" x="0" y="2.55" font-size="7.12" fill="#1f3156" text-anchor="middle" font-weight="bold" textLength="14.00" lengthAdjust="spacingAndGlyphs">GND</text>
<rect x="324.80" y="455.00" width="6.40" height="8.80" fill="#eef2f7" rx="0.7"/>
<text transform="translate(328.00,459.40) rotate(-90)" x="0" y="2.55" font-size="7.12" fill="#1f3156" text-anchor="middle" font-weight="bold" textLength="7.80" lengthAdjust="spacingAndGlyphs">RB</text>
<rect x="324.80" y="473.00" width="6.40" height="9.50" fill="#eef2f7" rx="0.7"/>
<text transform="translate(328.00,477.75) rotate(-90)" x="0" y="2.55" font-size="7.12" fill="#1f3156" text-anchor="middle" font-weight="bold" textLength="8.50" lengthAdjust="spacingAndGlyphs">3A</text>
<rect x="331.40" y="213.00" width="5.80" height="12.00" fill="#eef2f7" rx="0.7"/>
<text transform="translate(334.30,219.00) rotate(-90)" x="0" y="2.25" font-size="6.28" fill="#1f3156" text-anchor="middle" font-weight="bold" textLength="11.00" lengthAdjust="spacingAndGlyphs">3V3</text>
<rect x="331.40" y="232.50" width="5.80" height="13.80" fill="#eef2f7" rx="0.7"/>
<text transform="translate(334.30,239.40) rotate(-90)" x="0" y="2.25" font-size="6.28" fill="#1f3156" text-anchor="middle" font-weight="bold" textLength="12.80" lengthAdjust="spacingAndGlyphs">DET</text>
<rect x="331.40" y="322.00" width="5.80" height="16.80" fill="#eef2f7" rx="0.7"/>
<text transform="translate(334.30,330.40) rotate(-90)" x="0" y="2.25" font-size="6.28" fill="#1f3156" text-anchor="middle" font-weight="bold" textLength="15.80" lengthAdjust="spacingAndGlyphs">CS0#</text>
<rect x="331.40" y="370.00" width="5.80" height="12.50" fill="#eef2f7" rx="0.7"/>
<text transform="translate(334.30,376.25) rotate(-90)" x="0" y="2.25" font-size="6.28" fill="#1f3156" text-anchor="middle" font-weight="bold" textLength="11.50" lengthAdjust="spacingAndGlyphs">I2C1</text>
<rect x="331.40" y="460.60" width="5.80" height="15.00" fill="#eef2f7" rx="0.7"/>
<text transform="translate(334.30,468.10) rotate(-90)" x="0" y="2.25" font-size="6.28" fill="#1f3156" text-anchor="middle" font-weight="bold" textLength="14.00" lengthAdjust="spacingAndGlyphs">PWM</text>
<text transform="translate(335.40,127.60) rotate(-90)" x="0" y="2.15" font-size="6.0" fill="#e6ecf4" text-anchor="middle" font-weight="normal" stroke="#e6ecf4" stroke-width="0.3">SW1</text>
<rect x="338.80" y="121.90" width="10.80" height="5.90" fill="#f2b829" />
<rect x="374.40" y="121.90" width="10.00" height="5.90" fill="#f2b829" />
<rect x="338.80" y="131.90" width="10.80" height="5.90" fill="#f2b829" />
<rect x="374.40" y="131.90" width="10.00" height="5.90" fill="#f2b829" />
<rect x="355.60" y="114.40" width="11.90" height="3.80" fill="#222226" rx="0.8"/>
<rect x="349.40" y="118.00" width="25.60" height="21.60" fill="#c3c5cb" />
<rect x="349.40" y="118.00" width="25.60" height="2.00" fill="#aeb0b7" />
<rect x="349.40" y="137.40" width="25.60" height="2.40" fill="#9b9da6" />
<rect x="352.00" y="121.00" width="20.00" height="14.00" fill="#cfd1d6" />
<rect x="386.30" y="120.00" width="6.20" height="23.00" fill="#eef2f7" rx="0.7"/>
<text transform="translate(389.40,131.50) rotate(-90)" x="0" y="2.45" font-size="6.84" fill="#1f3156" text-anchor="middle" font-weight="bold" textLength="22.00" lengthAdjust="spacingAndGlyphs">RESET</text>
<rect x="394.60" y="120.00" width="2.60" height="23.80" fill="#f2b829" />
<rect x="333.40" y="144.80" width="10.20" height="23.00" fill="none" stroke="#f1f4f8" stroke-width="1.2" rx="2.4"/>
<rect x="334.80" y="146.40" width="7.40" height="7.20" fill="#f6c535" />
<rect x="334.80" y="159.20" width="7.40" height="7.20" fill="#f6c535" />
<rect x="336.20" y="153.60" width="4.60" height="5.60" fill="#c9b88a" />
<text x="338.00" y="175.40" font-size="7.0" fill="#e6ecf4" text-anchor="middle" font-weight="normal" stroke="#e6ecf4" stroke-width="0.3">C3</text>
<rect x="346.80" y="143.60" width="15.20" height="26.60" fill="none" stroke="#f1f4f8" stroke-width="1.2" rx="2.6"/>
<rect x="348.60" y="145.60" width="11.60" height="7.00" fill="#f6c535" />
<rect x="348.60" y="160.40" width="11.60" height="8.00" fill="#f6c535" />
<rect x="349.60" y="152.60" width="9.60" height="7.80" fill="#b3a68e" />
<rect x="351.60" y="152.60" width="5.60" height="7.80" fill="#a7a4a4" />
<text x="355.00" y="177.60" font-size="7.0" fill="#e6ecf4" text-anchor="middle" font-weight="normal" stroke="#e6ecf4" stroke-width="0.3">C4</text>
<text transform="translate(366.00,150.20) rotate(-90)" x="0" y="2.36" font-size="6.6" fill="#e6ecf4" text-anchor="middle" font-weight="normal" stroke="#e6ecf4" stroke-width="0.3">C7</text>
<rect x="370.60" y="144.20" width="21.60" height="12.60" fill="none" stroke="#f1f4f8" stroke-width="1.2" rx="2.6"/>
<rect x="372.40" y="146.20" width="7.20" height="8.60" fill="#f6c535" />
<rect x="383.40" y="146.20" width="7.20" height="8.60" fill="#f6c535" />
<rect x="379.60" y="147.20" width="3.80" height="6.60" fill="#c7ccd8" />
<text transform="translate(368.20,163.80) rotate(-90)" x="0" y="2.22" font-size="6.2" fill="#e6ecf4" text-anchor="middle" font-weight="normal" stroke="#e6ecf4" stroke-width="0.3">R9</text>
<rect x="373.30" y="159.20" width="19.00" height="9.20" fill="#f3f5f9" rx="1.4"/>
<rect x="374.80" y="160.70" width="16.00" height="6.20" fill="#22387a" />
<rect x="375.50" y="161.40" width="5.20" height="4.80" fill="#f6c535" />
<rect x="384.90" y="161.40" width="5.20" height="4.80" fill="#f6c535" />
<rect x="375.50" y="161.40" width="5.20" height="1.00" fill="#f9d858" />
<rect x="384.90" y="161.40" width="5.20" height="1.00" fill="#f9d858" />
<circle cx="382.80" cy="163.80" r="1.90" fill="#12142a" />
<rect x="333.00" y="182.60" width="14.20" height="25.40" fill="none" stroke="#f1f4f8" stroke-width="1.2" rx="2.6"/>
<rect x="334.80" y="184.40" width="10.60" height="5.40" fill="#f6c535" />
<rect x="334.80" y="201.00" width="10.60" height="5.40" fill="#f6c535" />
<rect x="334.80" y="189.80" width="10.60" height="11.20" fill="#f2b829" />
<rect x="336.60" y="189.40" width="7.00" height="12.00" fill="#b4b4bc" />
<text transform="translate(351.30,190.00) rotate(-90)" x="0" y="2.36" font-size="6.6" fill="#e6ecf4" text-anchor="middle" font-weight="normal" stroke="#e6ecf4" stroke-width="0.3">C1</text>
<rect x="349.20" y="196.00" width="11.20" height="21.80" fill="none" stroke="#f1f4f8" stroke-width="1.2" rx="1.2"/>
<rect x="351.00" y="198.00" width="7.60" height="4.60" fill="#f6c535" />
<rect x="351.00" y="211.20" width="7.60" height="4.60" fill="#f6c535" />
<rect x="351.00" y="202.60" width="7.60" height="8.60" fill="#f7f7f8" />
<text transform="translate(356.80,226.60) rotate(-90)" x="0" y="2.29" font-size="6.4" fill="#e6ecf4" text-anchor="middle" font-weight="normal" stroke="#e6ecf4" stroke-width="0.3">FB1</text>
<rect x="338.40" y="215.80" width="8.40" height="16.60" fill="none" stroke="#f1f4f8" stroke-width="1.1" rx="2.2"/>
<rect x="339.80" y="217.40" width="5.60" height="13.40" fill="#f6c535" />
<rect x="339.80" y="222.00" width="5.60" height="1.50" fill="#f4ecd0" />
<rect x="339.80" y="225.00" width="5.60" height="1.50" fill="#f4ecd0" />
<text transform="translate(342.60,240.60) rotate(-90)" x="0" y="2.29" font-size="6.4" fill="#e6ecf4" text-anchor="middle" font-weight="normal" stroke="#e6ecf4" stroke-width="0.3">C2</text>
<path d="M396.6 144.0 L396.6 175.4 L404.0 175.4" fill="none" stroke="#e6ecf4" stroke-width="1"/>
<path d="M404.4 164.6 L412.4 164.6 M436.8 164.6 L446.6 164.6 L446.6 175.4 L455.6 175.4" fill="none" stroke="#e6ecf4" stroke-width="1"/>
<path d="M397.0 116.2 L456.2 116.2 L456.2 174.4 L448.0 174.4 L448.0 163.2 L404.0 163.2 L404.0 174.4 L397.0 174.4 Z" fill="#777980"/>
<rect x="397.00" y="116.20" width="59.20" height="1.60" fill="#8b8d94" />
<rect x="397.00" y="119.00" width="5.00" height="4.40" fill="#f2b829" />
<rect x="451.60" y="119.00" width="4.00" height="5.00" fill="#f2b829" />
<rect x="413.00" y="164.40" width="9.20" height="21.00" fill="#f6c535" />
<rect x="427.80" y="164.40" width="8.60" height="21.00" fill="#f6c535" />
<rect x="406.30" y="173.80" width="6.20" height="15.00" fill="#eef2f7" rx="0.7"/>
<text transform="translate(409.40,181.30) rotate(-90)" x="0" y="2.45" font-size="6.84" fill="#1f3156" text-anchor="middle" font-weight="bold" textLength="14.00" lengthAdjust="spacingAndGlyphs">GND</text>
<rect x="438.00" y="172.50" width="6.30" height="20.00" fill="#eef2f7" rx="0.7"/>
<text transform="translate(441.15,182.50) rotate(-90)" x="0" y="2.50" font-size="6.98" fill="#1f3156" text-anchor="middle" font-weight="bold" textLength="19.00" lengthAdjust="spacingAndGlyphs">DC_5V</text>
<text transform="translate(450.60,186.00) rotate(-90)" x="0" y="2.36" font-size="6.6" fill="#e6ecf4" text-anchor="middle" font-weight="normal" stroke="#e6ecf4" stroke-width="0.3">CN10</text>
<rect x="404.60" y="193.60" width="7.00" height="8.20" fill="#f6c535" />
<rect x="432.40" y="193.60" width="6.40" height="8.20" fill="#f6c535" />
<rect x="409.00" y="193.80" width="3.00" height="7.80" fill="#f6efd6" />
<rect x="432.00" y="193.80" width="2.40" height="7.80" fill="#f6efd6" />
<rect x="411.40" y="191.60" width="21.00" height="11.80" fill="#3b383b" stroke="#f1f4f8" stroke-width="1.2"/>
<rect x="412.20" y="192.40" width="2.00" height="10.20" fill="#1e1e20" />
<rect x="414.20" y="192.40" width="1.30" height="10.20" fill="#dcdde2" />
<text x="405.00" y="209.80" font-size="7.0" fill="#e6ecf4" text-anchor="middle" font-weight="normal" stroke="#e6ecf4" stroke-width="0.3">D1</text>
<text x="378.40" y="248.00" font-size="7.2" fill="#e6ecf4" text-anchor="middle" font-weight="normal" stroke="#e6ecf4" stroke-width="0.3">CN12</text>
<text x="410.60" y="248.00" font-size="7.2" fill="#e6ecf4" text-anchor="middle" font-weight="normal" stroke="#e6ecf4" stroke-width="0.3">CN11</text>
<rect x="375.00" y="250.20" width="7.40" height="1.30" fill="#111" />
<rect x="407.00" y="250.20" width="7.40" height="1.30" fill="#111" />
<path d="M368.3 258.3 V252.9 H388.1 V258.3 M368.3 303.8 V309.2 H388.1 V303.8" fill="none" stroke="#e9eef6" stroke-width="0.9" opacity="0.85"/>
<rect x="368.60" y="254.00" width="19.20" height="18.40" fill="#1d1d1f" rx="3.4"/>
<rect x="368.60" y="273.00" width="19.20" height="18.40" fill="#1d1d1f" rx="3.4"/>
<rect x="368.60" y="291.80" width="19.20" height="18.40" fill="#1d1d1f" rx="3.4"/>
<rect x="370.00" y="253.30" width="16.40" height="55.50" fill="#1d1d1f" rx="2"/>
<circle cx="388.10" cy="272.70" r="0.90" fill="#e6ecf4" />
<circle cx="368.30" cy="272.70" r="0.70" fill="#e6ecf4" opacity="0.7"/>
<circle cx="388.10" cy="291.60" r="0.90" fill="#e6ecf4" />
<circle cx="368.30" cy="291.60" r="0.70" fill="#e6ecf4" opacity="0.7"/>
<rect x="374.20" y="259.50" width="8.80" height="7.40" fill="#09090a" rx="0.8"/>
<rect x="375.40" y="260.50" width="6.40" height="5.40" fill="#f2e9a8" />
<rect x="374.20" y="278.50" width="8.80" height="7.40" fill="#09090a" rx="0.8"/>
<rect x="375.40" y="279.50" width="6.40" height="5.40" fill="#f2e9a8" />
<rect x="374.20" y="297.30" width="8.80" height="7.40" fill="#09090a" rx="0.8"/>
<rect x="375.40" y="298.30" width="6.40" height="5.40" fill="#f2e9a8" />
<path d="M400.7 258.3 V252.9 H420.3 V258.3 M400.7 303.8 V309.2 H420.3 V303.8" fill="none" stroke="#e9eef6" stroke-width="0.9" opacity="0.85"/>
<rect x="401.00" y="254.00" width="19.00" height="18.40" fill="#1d1d1f" rx="3.4"/>
<rect x="401.00" y="273.00" width="19.00" height="18.40" fill="#1d1d1f" rx="3.4"/>
<rect x="401.00" y="291.80" width="19.00" height="18.40" fill="#1d1d1f" rx="3.4"/>
<rect x="402.40" y="253.30" width="16.20" height="55.50" fill="#1d1d1f" rx="2"/>
<circle cx="420.30" cy="272.70" r="0.90" fill="#e6ecf4" />
<circle cx="400.70" cy="272.70" r="0.70" fill="#e6ecf4" opacity="0.7"/>
<circle cx="420.30" cy="291.60" r="0.90" fill="#e6ecf4" />
<circle cx="400.70" cy="291.60" r="0.70" fill="#e6ecf4" opacity="0.7"/>
<rect x="406.50" y="259.50" width="8.80" height="7.40" fill="#09090a" rx="0.8"/>
<rect x="407.70" y="260.50" width="6.40" height="5.40" fill="#f2e9a8" />
<rect x="406.50" y="278.50" width="8.80" height="7.40" fill="#09090a" rx="0.8"/>
<rect x="407.70" y="279.50" width="6.40" height="5.40" fill="#f2e9a8" />
<rect x="406.50" y="297.30" width="8.80" height="7.40" fill="#09090a" rx="0.8"/>
<rect x="407.70" y="298.30" width="6.40" height="5.40" fill="#f2e9a8" />
<rect x="362.30" y="256.00" width="5.30" height="13.00" fill="#eef2f7" rx="0.7"/>
<text transform="translate(364.95,262.50) rotate(-90)" x="0" y="2.00" font-size="5.59" fill="#1f3156" text-anchor="middle" font-weight="bold" textLength="12.00" lengthAdjust="spacingAndGlyphs">3.3V</text>
<rect x="357.40" y="271.00" width="5.10" height="17.00" fill="#eef2f7" rx="0.7"/>
<text transform="translate(359.95,279.50) rotate(-90)" x="0" y="1.90" font-size="5.31" fill="#1f3156" text-anchor="middle" font-weight="bold" textLength="16.00" lengthAdjust="spacingAndGlyphs">GP27</text>
<rect x="362.30" y="270.00" width="5.30" height="19.00" fill="#eef2f7" rx="0.7"/>
<text transform="translate(364.95,279.50) rotate(-90)" x="0" y="2.00" font-size="5.59" fill="#1f3156" text-anchor="middle" font-weight="bold" textLength="18.00" lengthAdjust="spacingAndGlyphs">ADC1</text>
<rect x="362.30" y="292.50" width="5.30" height="16.30" fill="#eef2f7" rx="0.7"/>
<text transform="translate(364.95,300.65) rotate(-90)" x="0" y="2.00" font-size="5.59" fill="#1f3156" text-anchor="middle" font-weight="bold" textLength="15.30" lengthAdjust="spacingAndGlyphs">GND</text>
<rect x="395.00" y="256.00" width="5.20" height="13.00" fill="#eef2f7" rx="0.7"/>
<text transform="translate(397.60,262.50) rotate(-90)" x="0" y="1.95" font-size="5.45" fill="#1f3156" text-anchor="middle" font-weight="bold" textLength="12.00" lengthAdjust="spacingAndGlyphs">3.3V</text>
<rect x="390.00" y="271.00" width="5.20" height="17.00" fill="#eef2f7" rx="0.7"/>
<text transform="translate(392.60,279.50) rotate(-90)" x="0" y="1.95" font-size="5.45" fill="#1f3156" text-anchor="middle" font-weight="bold" textLength="16.00" lengthAdjust="spacingAndGlyphs">GP26</text>
<rect x="395.00" y="270.00" width="5.20" height="19.00" fill="#eef2f7" rx="0.7"/>
<text transform="translate(397.60,279.50) rotate(-90)" x="0" y="1.95" font-size="5.45" fill="#1f3156" text-anchor="middle" font-weight="bold" textLength="18.00" lengthAdjust="spacingAndGlyphs">ADC0</text>
<rect x="395.00" y="292.50" width="5.20" height="16.30" fill="#eef2f7" rx="0.7"/>
<text transform="translate(397.60,300.65) rotate(-90)" x="0" y="1.95" font-size="5.45" fill="#1f3156" text-anchor="middle" font-weight="bold" textLength="15.30" lengthAdjust="spacingAndGlyphs">GND</text>
<rect x="441.50" y="213.40" width="5.50" height="1.60" fill="#111" />
<path d="M433.9 220.5 V215.1 H453.7 V220.5 M433.9 341.5 V346.9 H453.7 V341.5" fill="none" stroke="#e9eef6" stroke-width="0.9" opacity="0.85"/>
<rect x="434.20" y="216.00" width="19.20" height="18.40" fill="#1d1d1f" rx="3.4"/>
<rect x="434.20" y="234.76" width="19.20" height="18.40" fill="#1d1d1f" rx="3.4"/>
<rect x="434.20" y="253.52" width="19.20" height="18.40" fill="#1d1d1f" rx="3.4"/>
<rect x="434.20" y="272.28" width="19.20" height="18.40" fill="#1d1d1f" rx="3.4"/>
<rect x="434.20" y="291.04" width="19.20" height="18.40" fill="#1d1d1f" rx="3.4"/>
<rect x="434.20" y="309.80" width="19.20" height="18.40" fill="#1d1d1f" rx="3.4"/>
<rect x="434.20" y="328.56" width="19.20" height="18.40" fill="#1d1d1f" rx="3.4"/>
<rect x="435.60" y="215.50" width="16.40" height="131.00" fill="#1d1d1f" rx="2"/>
<circle cx="453.70" cy="234.58" r="0.90" fill="#e6ecf4" />
<circle cx="433.90" cy="234.58" r="0.70" fill="#e6ecf4" opacity="0.7"/>
<circle cx="453.70" cy="253.34" r="0.90" fill="#e6ecf4" />
<circle cx="433.90" cy="253.34" r="0.70" fill="#e6ecf4" opacity="0.7"/>
<circle cx="453.70" cy="272.10" r="0.90" fill="#e6ecf4" />
<circle cx="433.90" cy="272.10" r="0.70" fill="#e6ecf4" opacity="0.7"/>
<circle cx="453.70" cy="290.86" r="0.90" fill="#e6ecf4" />
<circle cx="433.90" cy="290.86" r="0.70" fill="#e6ecf4" opacity="0.7"/>
<circle cx="453.70" cy="309.62" r="0.90" fill="#e6ecf4" />
<circle cx="433.90" cy="309.62" r="0.70" fill="#e6ecf4" opacity="0.7"/>
<circle cx="453.70" cy="328.38" r="0.90" fill="#e6ecf4" />
<circle cx="433.90" cy="328.38" r="0.70" fill="#e6ecf4" opacity="0.7"/>
<rect x="440.80" y="221.50" width="8.80" height="7.40" fill="#09090a" rx="0.8"/>
<rect x="442.00" y="222.50" width="6.40" height="5.40" fill="#f2e9a8" />
<rect x="440.80" y="240.26" width="8.80" height="7.40" fill="#09090a" rx="0.8"/>
<rect x="442.00" y="241.26" width="6.40" height="5.40" fill="#f2e9a8" />
<rect x="440.80" y="259.02" width="8.80" height="7.40" fill="#09090a" rx="0.8"/>
<rect x="442.00" y="260.02" width="6.40" height="5.40" fill="#f2e9a8" />
<rect x="440.80" y="277.78" width="8.80" height="7.40" fill="#09090a" rx="0.8"/>
<rect x="442.00" y="278.78" width="6.40" height="5.40" fill="#f2e9a8" />
<rect x="440.80" y="296.54" width="8.80" height="7.40" fill="#09090a" rx="0.8"/>
<rect x="442.00" y="297.54" width="6.40" height="5.40" fill="#f2e9a8" />
<rect x="440.80" y="315.30" width="8.80" height="7.40" fill="#09090a" rx="0.8"/>
<rect x="442.00" y="316.30" width="6.40" height="5.40" fill="#f2e9a8" />
<rect x="440.80" y="334.06" width="8.80" height="7.40" fill="#09090a" rx="0.8"/>
<rect x="442.00" y="335.06" width="6.40" height="5.40" fill="#f2e9a8" />
<rect x="428.00" y="221.00" width="5.20" height="9.00" fill="#eef2f7" rx="0.7"/>
<text transform="translate(430.60,225.50) rotate(-90)" x="0" y="1.95" font-size="5.45" fill="#1f3156" text-anchor="middle" font-weight="bold" textLength="8.00" lengthAdjust="spacingAndGlyphs">5V</text>
<rect x="428.00" y="256.00" width="5.20" height="14.00" fill="#eef2f7" rx="0.7"/>
<text transform="translate(430.60,263.00) rotate(-90)" x="0" y="1.95" font-size="5.45" fill="#1f3156" text-anchor="middle" font-weight="bold" textLength="13.00" lengthAdjust="spacingAndGlyphs">GND</text>
<rect x="422.60" y="282.50" width="5.20" height="14.00" fill="#eef2f7" rx="0.7"/>
<text transform="translate(425.20,289.50) rotate(-90)" x="0" y="1.95" font-size="5.45" fill="#1f3156" text-anchor="middle" font-weight="bold" textLength="13.00" lengthAdjust="spacingAndGlyphs">SPI1</text>
<rect x="427.80" y="272.50" width="5.40" height="36.30" fill="#eef2f7" rx="0.7"/>
<text transform="translate(430.50,290.65) rotate(-90)" x="0" y="2.05" font-size="5.73" fill="#1f3156" text-anchor="middle" font-weight="bold" textLength="35.30" lengthAdjust="spacingAndGlyphs">MISO/SCK</text>
<rect x="421.40" y="323.00" width="5.20" height="14.00" fill="#eef2f7" rx="0.7"/>
<text transform="translate(424.00,330.00) rotate(-90)" x="0" y="1.95" font-size="5.45" fill="#1f3156" text-anchor="middle" font-weight="bold" textLength="13.00" lengthAdjust="spacingAndGlyphs">SPI1</text>
<rect x="426.80" y="317.50" width="6.40" height="27.50" fill="#eef2f7" rx="0.7"/>
<text transform="translate(430.00,331.25) rotate(-90)" x="0" y="2.55" font-size="7.12" fill="#1f3156" text-anchor="middle" font-weight="bold" textLength="26.50" lengthAdjust="spacingAndGlyphs">CS1#/MOSI</text>
<text x="443.00" y="355.00" font-size="7.2" fill="#e6ecf4" text-anchor="middle" font-weight="normal" stroke="#e6ecf4" stroke-width="0.3">CN18</text>
<path d="M470.2 250 L470.2 244.2 L489.2 244.2 L489.2 250" fill="none" stroke="#e6ecf4" stroke-width="0.9"/>
<path d="M469.7 249.8 V244.4 H489.9 V249.8 M469.7 347.8 V353.2 H489.9 V347.8" fill="none" stroke="#e9eef6" stroke-width="0.9" opacity="0.85"/>
<rect x="470.00" y="244.40" width="19.60" height="18.40" fill="#1d1d1f" rx="3.4"/>
<rect x="470.00" y="263.12" width="19.60" height="18.40" fill="#1d1d1f" rx="3.4"/>
<rect x="470.00" y="281.84" width="19.60" height="18.40" fill="#1d1d1f" rx="3.4"/>
<rect x="470.00" y="300.56" width="19.60" height="18.40" fill="#1d1d1f" rx="3.4"/>
<rect x="470.00" y="319.28" width="19.60" height="18.40" fill="#1d1d1f" rx="3.4"/>
<rect x="470.00" y="338.00" width="19.60" height="18.40" fill="#1d1d1f" rx="3.4"/>
<rect x="471.40" y="244.80" width="16.80" height="108.00" fill="#1d1d1f" rx="2"/>
<circle cx="489.90" cy="262.96" r="0.90" fill="#e6ecf4" />
<circle cx="469.70" cy="262.96" r="0.70" fill="#e6ecf4" opacity="0.7"/>
<circle cx="489.90" cy="281.68" r="0.90" fill="#e6ecf4" />
<circle cx="469.70" cy="281.68" r="0.70" fill="#e6ecf4" opacity="0.7"/>
<circle cx="489.90" cy="300.40" r="0.90" fill="#e6ecf4" />
<circle cx="469.70" cy="300.40" r="0.70" fill="#e6ecf4" opacity="0.7"/>
<circle cx="489.90" cy="319.12" r="0.90" fill="#e6ecf4" />
<circle cx="469.70" cy="319.12" r="0.70" fill="#e6ecf4" opacity="0.7"/>
<circle cx="489.90" cy="337.84" r="0.90" fill="#e6ecf4" />
<circle cx="469.70" cy="337.84" r="0.70" fill="#e6ecf4" opacity="0.7"/>
<rect x="477.80" y="249.90" width="8.80" height="7.40" fill="#09090a" rx="0.8"/>
<rect x="479.00" y="250.90" width="6.40" height="5.40" fill="#f2e9a8" />
<rect x="477.80" y="268.62" width="8.80" height="7.40" fill="#09090a" rx="0.8"/>
<rect x="479.00" y="269.62" width="6.40" height="5.40" fill="#f2e9a8" />
<rect x="477.80" y="287.34" width="8.80" height="7.40" fill="#09090a" rx="0.8"/>
<rect x="479.00" y="288.34" width="6.40" height="5.40" fill="#f2e9a8" />
<rect x="477.80" y="306.06" width="8.80" height="7.40" fill="#09090a" rx="0.8"/>
<rect x="479.00" y="307.06" width="6.40" height="5.40" fill="#f2e9a8" />
<rect x="477.80" y="324.78" width="8.80" height="7.40" fill="#09090a" rx="0.8"/>
<rect x="479.00" y="325.78" width="6.40" height="5.40" fill="#f2e9a8" />
<rect x="477.80" y="343.50" width="8.80" height="7.40" fill="#09090a" rx="0.8"/>
<rect x="479.00" y="344.50" width="6.40" height="5.40" fill="#f2e9a8" />
<rect x="458.80" y="268.00" width="5.00" height="23.00" fill="#eef2f7" rx="0.7"/>
<text transform="translate(461.30,279.50) rotate(-90)" x="0" y="1.85" font-size="5.17" fill="#1f3156" text-anchor="middle" font-weight="bold" textLength="22.00" lengthAdjust="spacingAndGlyphs">UART0</text>
<rect x="463.60" y="263.80" width="5.20" height="32.20" fill="#eef2f7" rx="0.7"/>
<text transform="translate(466.20,279.90) rotate(-90)" x="0" y="1.95" font-size="5.45" fill="#1f3156" text-anchor="middle" font-weight="bold" textLength="31.20" lengthAdjust="spacingAndGlyphs">RXD/TXD</text>
<rect x="463.00" y="338.80" width="5.80" height="13.70" fill="#eef2f7" rx="0.7"/>
<text transform="translate(465.90,345.65) rotate(-90)" x="0" y="2.25" font-size="6.28" fill="#1f3156" text-anchor="middle" font-weight="bold" textLength="12.70" lengthAdjust="spacingAndGlyphs">GND</text>
<text x="480.00" y="362.80" font-size="7.2" fill="#e6ecf4" text-anchor="middle" font-weight="normal" stroke="#e6ecf4" stroke-width="0.3">CN16</text>
<path d="M469.7 371.0 V365.6 H489.7 V371.0 M469.7 417.4 V422.8 H489.7 V417.4" fill="none" stroke="#e9eef6" stroke-width="0.9" opacity="0.85"/>
<rect x="470.00" y="369.00" width="19.40" height="18.40" fill="#1d1d1f" rx="3.4"/>
<rect x="470.00" y="387.20" width="19.40" height="18.40" fill="#1d1d1f" rx="3.4"/>
<rect x="470.00" y="405.80" width="19.40" height="18.40" fill="#1d1d1f" rx="3.4"/>
<rect x="471.40" y="366.00" width="16.60" height="56.40" fill="#1d1d1f" rx="2"/>
<circle cx="489.70" cy="387.30" r="0.90" fill="#e6ecf4" />
<circle cx="469.70" cy="387.30" r="0.70" fill="#e6ecf4" opacity="0.7"/>
<circle cx="489.70" cy="405.70" r="0.90" fill="#e6ecf4" />
<circle cx="469.70" cy="405.70" r="0.70" fill="#e6ecf4" opacity="0.7"/>
<rect x="477.90" y="374.50" width="8.80" height="7.40" fill="#09090a" rx="0.8"/>
<rect x="479.10" y="375.50" width="6.40" height="5.40" fill="#f2e9a8" />
<rect x="477.90" y="392.70" width="8.80" height="7.40" fill="#09090a" rx="0.8"/>
<rect x="479.10" y="393.70" width="6.40" height="5.40" fill="#f2e9a8" />
<rect x="477.90" y="411.30" width="8.80" height="7.40" fill="#09090a" rx="0.8"/>
<rect x="479.10" y="412.30" width="6.40" height="5.40" fill="#f2e9a8" />
<rect x="457.50" y="366.90" width="5.70" height="19.40" fill="#eef2f7" rx="0.7"/>
<text transform="translate(460.35,376.60) rotate(-90)" x="0" y="2.20" font-size="6.15" fill="#1f3156" text-anchor="middle" font-weight="bold" textLength="18.40" lengthAdjust="spacingAndGlyphs">GP17</text>
<rect x="463.70" y="362.00" width="5.70" height="24.30" fill="#eef2f7" rx="0.7"/>
<text transform="translate(466.55,374.15) rotate(-90)" x="0" y="2.20" font-size="6.15" fill="#1f3156" text-anchor="middle" font-weight="bold" textLength="23.30" lengthAdjust="spacingAndGlyphs">PWM0B</text>
<rect x="463.70" y="388.80" width="5.70" height="10.00" fill="#eef2f7" rx="0.7"/>
<text transform="translate(466.55,393.80) rotate(-90)" x="0" y="2.20" font-size="6.15" fill="#1f3156" text-anchor="middle" font-weight="bold" textLength="9.00" lengthAdjust="spacingAndGlyphs">5V</text>
<rect x="463.70" y="405.00" width="5.70" height="15.00" fill="#eef2f7" rx="0.7"/>
<text transform="translate(466.55,412.50) rotate(-90)" x="0" y="2.20" font-size="6.15" fill="#1f3156" text-anchor="middle" font-weight="bold" textLength="14.00" lengthAdjust="spacingAndGlyphs">GND</text>
<text x="479.60" y="432.60" font-size="7.2" fill="#e6ecf4" text-anchor="middle" font-weight="normal" stroke="#e6ecf4" stroke-width="0.3">CN13</text>
<path d="M469.7 444.6 V439.2 H489.7 V444.6 M469.7 491.2 V496.6 H489.7 V491.2" fill="none" stroke="#e9eef6" stroke-width="0.9" opacity="0.85"/>
<rect x="470.00" y="442.80" width="19.40" height="18.40" fill="#1d1d1f" rx="3.4"/>
<rect x="470.00" y="461.40" width="19.40" height="18.40" fill="#1d1d1f" rx="3.4"/>
<rect x="470.00" y="480.00" width="19.40" height="18.40" fill="#1d1d1f" rx="3.4"/>
<rect x="471.40" y="439.60" width="16.60" height="56.60" fill="#1d1d1f" rx="2"/>
<circle cx="489.70" cy="461.30" r="0.90" fill="#e6ecf4" />
<circle cx="469.70" cy="461.30" r="0.70" fill="#e6ecf4" opacity="0.7"/>
<circle cx="489.70" cy="479.90" r="0.90" fill="#e6ecf4" />
<circle cx="469.70" cy="479.90" r="0.70" fill="#e6ecf4" opacity="0.7"/>
<rect x="477.90" y="448.30" width="8.80" height="7.40" fill="#09090a" rx="0.8"/>
<rect x="479.10" y="449.30" width="6.40" height="5.40" fill="#f2e9a8" />
<rect x="477.90" y="466.90" width="8.80" height="7.40" fill="#09090a" rx="0.8"/>
<rect x="479.10" y="467.90" width="6.40" height="5.40" fill="#f2e9a8" />
<rect x="477.90" y="485.50" width="8.80" height="7.40" fill="#09090a" rx="0.8"/>
<rect x="479.10" y="486.50" width="6.40" height="5.40" fill="#f2e9a8" />
<rect x="457.50" y="440.60" width="5.70" height="19.40" fill="#eef2f7" rx="0.7"/>
<text transform="translate(460.35,450.30) rotate(-90)" x="0" y="2.20" font-size="6.15" fill="#1f3156" text-anchor="middle" font-weight="bold" textLength="18.40" lengthAdjust="spacingAndGlyphs">GP16</text>
<rect x="463.70" y="435.60" width="5.70" height="24.40" fill="#eef2f7" rx="0.7"/>
<text transform="translate(466.55,447.80) rotate(-90)" x="0" y="2.20" font-size="6.15" fill="#1f3156" text-anchor="middle" font-weight="bold" textLength="23.40" lengthAdjust="spacingAndGlyphs">PWM0A</text>
<rect x="463.70" y="461.90" width="5.70" height="10.00" fill="#eef2f7" rx="0.7"/>
<text transform="translate(466.55,466.90) rotate(-90)" x="0" y="2.20" font-size="6.15" fill="#1f3156" text-anchor="middle" font-weight="bold" textLength="9.00" lengthAdjust="spacingAndGlyphs">5V</text>
<rect x="463.70" y="477.50" width="5.70" height="15.00" fill="#eef2f7" rx="0.7"/>
<text transform="translate(466.55,485.00) rotate(-90)" x="0" y="2.20" font-size="6.15" fill="#1f3156" text-anchor="middle" font-weight="bold" textLength="14.00" lengthAdjust="spacingAndGlyphs">GND</text>
<text x="479.60" y="506.40" font-size="7.2" fill="#e6ecf4" text-anchor="middle" font-weight="normal" stroke="#e6ecf4" stroke-width="0.3">CN14</text>
<rect x="343.10" y="325.90" width="19.40" height="9.40" fill="#f3f5f9" rx="1.4"/>
<rect x="344.60" y="327.40" width="16.40" height="6.40" fill="#22387a" />
<rect x="345.30" y="328.10" width="5.40" height="5.00" fill="#f6c535" />
<rect x="354.90" y="328.10" width="5.40" height="5.00" fill="#f6c535" />
<rect x="345.30" y="328.10" width="5.40" height="1.00" fill="#f9d858" />
<rect x="354.90" y="328.10" width="5.40" height="1.00" fill="#f9d858" />
<circle cx="352.80" cy="330.60" r="1.90" fill="#12142a" />
<text x="364.20" y="333.10" font-size="7.0" fill="#e6ecf4" text-anchor="start" font-weight="normal" stroke="#e6ecf4" stroke-width="0.3">R10</text>
<rect x="343.10" y="336.55" width="19.40" height="9.40" fill="#f3f5f9" rx="1.4"/>
<rect x="344.60" y="338.05" width="16.40" height="6.40" fill="#22387a" />
<rect x="345.30" y="338.75" width="5.40" height="5.00" fill="#f6c535" />
<rect x="354.90" y="338.75" width="5.40" height="5.00" fill="#f6c535" />
<rect x="345.30" y="338.75" width="5.40" height="1.00" fill="#f9d858" />
<rect x="354.90" y="338.75" width="5.40" height="1.00" fill="#f9d858" />
<circle cx="352.80" cy="341.25" r="1.90" fill="#12142a" />
<text x="364.20" y="343.75" font-size="7.0" fill="#e6ecf4" text-anchor="start" font-weight="normal" stroke="#e6ecf4" stroke-width="0.3">R3</text>
<rect x="343.10" y="347.20" width="19.40" height="9.40" fill="#f3f5f9" rx="1.4"/>
<rect x="344.60" y="348.70" width="16.40" height="6.40" fill="#22387a" />
<rect x="345.30" y="349.40" width="5.40" height="5.00" fill="#f6c535" />
<rect x="354.90" y="349.40" width="5.40" height="5.00" fill="#f6c535" />
<rect x="345.30" y="349.40" width="5.40" height="1.00" fill="#f9d858" />
<rect x="354.90" y="349.40" width="5.40" height="1.00" fill="#f9d858" />
<circle cx="352.80" cy="351.90" r="1.90" fill="#12142a" />
<text x="364.20" y="354.40" font-size="7.0" fill="#e6ecf4" text-anchor="start" font-weight="normal" stroke="#e6ecf4" stroke-width="0.3">R5</text>
<rect x="343.10" y="357.80" width="19.40" height="9.40" fill="#f3f5f9" rx="1.4"/>
<rect x="344.60" y="359.30" width="16.40" height="6.40" fill="#22387a" />
<rect x="345.30" y="360.00" width="5.40" height="5.00" fill="#f6c535" />
<rect x="354.90" y="360.00" width="5.40" height="5.00" fill="#f6c535" />
<rect x="345.30" y="360.00" width="5.40" height="1.00" fill="#f9d858" />
<rect x="354.90" y="360.00" width="5.40" height="1.00" fill="#f9d858" />
<circle cx="352.80" cy="362.50" r="1.90" fill="#12142a" />
<text x="364.20" y="365.00" font-size="7.0" fill="#e6ecf4" text-anchor="start" font-weight="normal" stroke="#e6ecf4" stroke-width="0.3">R7</text>
<rect x="343.10" y="368.70" width="19.40" height="9.40" fill="#f3f5f9" rx="1.4"/>
<rect x="344.60" y="370.20" width="16.40" height="6.40" fill="#22387a" />
<rect x="345.30" y="370.90" width="5.40" height="5.00" fill="#f6c535" />
<rect x="354.90" y="370.90" width="5.40" height="5.00" fill="#f6c535" />
<rect x="345.30" y="370.90" width="5.40" height="1.00" fill="#f9d858" />
<rect x="354.90" y="370.90" width="5.40" height="1.00" fill="#f9d858" />
<circle cx="352.80" cy="373.40" r="1.90" fill="#12142a" />
<text x="364.20" y="375.90" font-size="7.0" fill="#e6ecf4" text-anchor="start" font-weight="normal" stroke="#e6ecf4" stroke-width="0.3">R8</text>
<rect x="343.10" y="379.05" width="19.40" height="9.40" fill="#f3f5f9" rx="1.4"/>
<rect x="344.60" y="380.55" width="16.40" height="6.40" fill="#22387a" />
<rect x="345.30" y="381.25" width="5.40" height="5.00" fill="#f6c535" />
<rect x="354.90" y="381.25" width="5.40" height="5.00" fill="#f6c535" />
<rect x="345.30" y="381.25" width="5.40" height="1.00" fill="#f9d858" />
<rect x="354.90" y="381.25" width="5.40" height="1.00" fill="#f9d858" />
<circle cx="352.80" cy="383.75" r="1.90" fill="#12142a" />
<text transform="translate(367.40,385.40) rotate(-90)" x="0" y="2.29" font-size="6.4" fill="#e6ecf4" text-anchor="middle" font-weight="normal" stroke="#e6ecf4" stroke-width="0.3">R29</text>
<text x="380.20" y="367.40" font-size="7.0" fill="#e6ecf4" text-anchor="middle" font-weight="normal" stroke="#e6ecf4" stroke-width="0.3">C6</text>
<text x="380.20" y="397.00" font-size="7.0" fill="#e6ecf4" text-anchor="middle" font-weight="normal" stroke="#e6ecf4" stroke-width="0.3">C5</text>
<rect x="374.60" y="368.40" width="19.00" height="9.80" fill="none" stroke="#f1f4f8" stroke-width="1.2" rx="2.4"/>
<rect x="376.40" y="370.10" width="15.40" height="6.40" fill="#f6c535" />
<rect x="381.60" y="370.10" width="1.60" height="6.40" fill="#f4efe0" />
<rect x="384.60" y="370.10" width="1.60" height="6.40" fill="#f4efe0" />
<rect x="374.60" y="379.60" width="19.00" height="9.80" fill="none" stroke="#f1f4f8" stroke-width="1.2" rx="2.4"/>
<rect x="376.40" y="381.30" width="15.40" height="6.40" fill="#f6c535" />
<rect x="381.60" y="381.30" width="1.60" height="6.40" fill="#f4efe0" />
<rect x="384.60" y="381.30" width="1.60" height="6.40" fill="#f4efe0" />
<rect x="396.30" y="369.70" width="9.80" height="19.40" fill="#f3f5f9" rx="1.4"/>
<rect x="397.80" y="371.20" width="6.80" height="16.40" fill="#22387a" />
<rect x="398.50" y="371.90" width="5.40" height="5.40" fill="#f6c535" />
<rect x="398.50" y="381.50" width="5.40" height="5.40" fill="#f6c535" />
<circle cx="401.20" cy="379.40" r="1.90" fill="#12142a" />
<text transform="translate(401.20,362.60) rotate(-90)" x="0" y="2.36" font-size="6.6" fill="#e6ecf4" text-anchor="middle" font-weight="normal" stroke="#e6ecf4" stroke-width="0.3">R4</text>
<rect x="409.50" y="369.70" width="9.80" height="19.40" fill="#f3f5f9" rx="1.4"/>
<rect x="411.00" y="371.20" width="6.80" height="16.40" fill="#22387a" />
<rect x="411.70" y="371.90" width="5.40" height="5.40" fill="#f6c535" />
<rect x="411.70" y="381.50" width="5.40" height="5.40" fill="#f6c535" />
<circle cx="414.40" cy="379.40" r="1.90" fill="#12142a" />
<text transform="translate(414.40,362.60) rotate(-90)" x="0" y="2.36" font-size="6.6" fill="#e6ecf4" text-anchor="middle" font-weight="normal" stroke="#e6ecf4" stroke-width="0.3">R6</text>
<rect x="422.50" y="369.70" width="9.80" height="19.40" fill="#f3f5f9" rx="1.4"/>
<rect x="424.00" y="371.20" width="6.80" height="16.40" fill="#22387a" />
<rect x="424.70" y="371.90" width="5.40" height="5.40" fill="#f6c535" />
<rect x="424.70" y="381.50" width="5.40" height="5.40" fill="#f6c535" />
<circle cx="427.40" cy="379.40" r="1.90" fill="#12142a" />
<text transform="translate(427.40,362.60) rotate(-90)" x="0" y="2.36" font-size="6.6" fill="#e6ecf4" text-anchor="middle" font-weight="normal" stroke="#e6ecf4" stroke-width="0.3">R2</text>
<rect x="434.50" y="369.70" width="9.80" height="19.40" fill="#f3f5f9" rx="1.4"/>
<rect x="436.00" y="371.20" width="6.80" height="16.40" fill="#22387a" />
<rect x="436.70" y="371.90" width="5.40" height="5.40" fill="#f6c535" />
<rect x="436.70" y="381.50" width="5.40" height="5.40" fill="#f6c535" />
<circle cx="439.40" cy="379.40" r="1.90" fill="#12142a" />
<text transform="translate(439.40,362.60) rotate(-90)" x="0" y="2.36" font-size="6.6" fill="#e6ecf4" text-anchor="middle" font-weight="normal" stroke="#e6ecf4" stroke-width="0.3">R1</text>
<path d="M349.00 401.6 H355.00 V413.4 L353.80 415.2 H350.20 L349.00 413.4 Z" fill="#f2b829"/>
<path d="M357.08 401.6 H363.08 V413.4 L361.88 415.2 H358.28 L357.08 413.4 Z" fill="#f2b829"/>
<path d="M365.16 401.6 H371.16 V413.4 L369.96 415.2 H366.36 L365.16 413.4 Z" fill="#f2b829"/>
<path d="M373.24 401.6 H379.24 V413.4 L378.04 415.2 H374.44 L373.24 413.4 Z" fill="#f2b829"/>
<path d="M381.32 401.6 H387.32 V413.4 L386.12 415.2 H382.52 L381.32 413.4 Z" fill="#f2b829"/>
<path d="M389.40 401.6 H395.40 V413.4 L394.20 415.2 H390.60 L389.40 413.4 Z" fill="#f2b829"/>
<path d="M397.48 401.6 H403.48 V413.4 L402.28 415.2 H398.68 L397.48 413.4 Z" fill="#f2b829"/>
<path d="M405.56 401.6 H411.56 V413.4 L410.36 415.2 H406.76 L405.56 413.4 Z" fill="#f2b829"/>
<path d="M413.64 401.6 H419.64 V413.4 L418.44 415.2 H414.84 L413.64 413.4 Z" fill="#f2b829"/>
<text x="423.00" y="408.60" font-size="5.0" fill="#e6ecf4" text-anchor="middle" font-weight="normal" stroke="#e6ecf4" stroke-width="0.3">1</text>
<rect x="336.90" y="408.00" width="10.90" height="13.90" fill="#f2b829" />
<rect x="445.60" y="408.00" width="14.40" height="13.90" fill="#f2b829" />
<rect x="336.30" y="474.40" width="9.00" height="21.20" fill="#f2b829" />
<rect x="453.00" y="473.80" width="9.50" height="21.80" fill="#f2b829" />
<rect x="344.50" y="425.50" width="1.30" height="49.00" fill="#f1f4f8" />
<rect x="344.50" y="495.60" width="1.30" height="19.00" fill="#f1f4f8" />
<path d="M346.3 415.4 L422.4 415.4 L424.2 412.6 L452.6 412.6 L452.6 514.6 L346.3 514.6 Z" fill="#a4a6ab"/>
<rect x="346.30" y="414.60" width="76.40" height="1.50" fill="#77797f" />
<rect x="424.00" y="412.20" width="28.60" height="1.80" fill="#45464a" />
<rect x="448.40" y="414.20" width="4.20" height="100.40" fill="#babcc0" />
<rect x="452.60" y="421.80" width="1.40" height="52.00" fill="#85878c" />
<path d="M402.0 514.6 L453.0 514.6 L453.0 521.4 L430 521.4 Z" fill="#8f9196"/>
<path d="M404 515.0 L432 520.6" stroke="#e8e9ec" stroke-width="1.2" fill="none"/>
<rect x="340.60" y="411.90" width="7.20" height="7.50" fill="#b3b4c2" />
<rect x="340.00" y="476.30" width="6.40" height="16.80" fill="#a9abb0" />
<rect x="448.60" y="412.80" width="4.00" height="9.00" fill="#96989d" />
<rect x="455.80" y="479.60" width="3.60" height="13.40" fill="#f7d25c" />
<path d="M347.0 423.8 L349.2 423.8 L349.6 462.4 L347.6 462.4 Z" fill="#3c3d41"/>
<rect x="350.20" y="426.40" width="2.00" height="8.40" fill="#ee9a1b" rx="1"/>
<rect x="422.80" y="422.40" width="2.70" height="33.60" fill="#1a1a1c" />
<rect x="422.80" y="453.20" width="13.80" height="2.80" fill="#1a1a1c" />
<rect x="434.40" y="448.80" width="2.20" height="7.20" fill="#1a1a1c" />
<path d="M428.6 423.4 L431.4 423.4 L434.6 438.0 L434.6 449.6 L433.6 453.2 L425.5 453.2 L425.5 449.0 L432.2 449.0 L432.2 438.6 Z" fill="#ee9a1b"/>
<rect x="428.90" y="493.60" width="6.60" height="15.20" fill="#1e1e20" />
<rect x="430.50" y="495.60" width="3.20" height="11.40" fill="#5a5b5f" />
<rect x="451.40" y="466.00" width="1.60" height="5.00" fill="#222" />
<text transform="translate(338.40,506.00) rotate(-90)" x="0" y="2.43" font-size="6.8" fill="#e6ecf4" text-anchor="middle" font-weight="normal" stroke="#e6ecf4" stroke-width="0.3">CN1</text>
<text x="508.60" y="230.80" font-size="7.7" fill="#e6ecf4" text-anchor="end" font-weight="normal" stroke="#e6ecf4" stroke-width="0.3">R23</text>
<rect x="510.25" y="222.85" width="20.70" height="10.30" fill="#f3f5f9" rx="1.4"/>
<rect x="511.75" y="224.35" width="17.70" height="7.30" fill="#22387a" />
<rect x="512.45" y="225.05" width="6.05" height="5.90" fill="#f6c535" />
<rect x="522.70" y="225.05" width="6.05" height="5.90" fill="#f6c535" />
<rect x="512.45" y="225.05" width="6.05" height="1.00" fill="#f9d858" />
<rect x="522.70" y="225.05" width="6.05" height="1.00" fill="#f9d858" />
<circle cx="520.60" cy="228.00" r="1.90" fill="#12142a" />
<text x="508.60" y="243.06" font-size="7.7" fill="#e6ecf4" text-anchor="end" font-weight="normal" stroke="#e6ecf4" stroke-width="0.3">R20</text>
<rect x="510.25" y="235.11" width="20.70" height="10.30" fill="#f3f5f9" rx="1.4"/>
<rect x="511.75" y="236.61" width="17.70" height="7.30" fill="#22387a" />
<rect x="512.45" y="237.31" width="6.05" height="5.90" fill="#f6c535" />
<rect x="522.70" y="237.31" width="6.05" height="5.90" fill="#f6c535" />
<rect x="512.45" y="237.31" width="6.05" height="1.00" fill="#f9d858" />
<rect x="522.70" y="237.31" width="6.05" height="1.00" fill="#f9d858" />
<circle cx="520.60" cy="240.26" r="1.90" fill="#12142a" />
<text x="508.60" y="255.32" font-size="7.7" fill="#e6ecf4" text-anchor="end" font-weight="normal" stroke="#e6ecf4" stroke-width="0.3">R12</text>
<rect x="510.25" y="247.37" width="20.70" height="10.30" fill="#f3f5f9" rx="1.4"/>
<rect x="511.75" y="248.87" width="17.70" height="7.30" fill="#22387a" />
<rect x="512.45" y="249.57" width="6.05" height="5.90" fill="#f6c535" />
<rect x="522.70" y="249.57" width="6.05" height="5.90" fill="#f6c535" />
<rect x="512.45" y="249.57" width="6.05" height="1.00" fill="#f9d858" />
<rect x="522.70" y="249.57" width="6.05" height="1.00" fill="#f9d858" />
<circle cx="520.60" cy="252.52" r="1.90" fill="#12142a" />
<text x="508.60" y="267.58" font-size="7.7" fill="#e6ecf4" text-anchor="end" font-weight="normal" stroke="#e6ecf4" stroke-width="0.3">R19</text>
<rect x="510.25" y="259.63" width="20.70" height="10.30" fill="#f3f5f9" rx="1.4"/>
<rect x="511.75" y="261.13" width="17.70" height="7.30" fill="#22387a" />
<rect x="512.45" y="261.83" width="6.05" height="5.90" fill="#f6c535" />
<rect x="522.70" y="261.83" width="6.05" height="5.90" fill="#f6c535" />
<rect x="512.45" y="261.83" width="6.05" height="1.00" fill="#f9d858" />
<rect x="522.70" y="261.83" width="6.05" height="1.00" fill="#f9d858" />
<circle cx="520.60" cy="264.78" r="1.90" fill="#12142a" />
<text x="508.60" y="279.84" font-size="7.7" fill="#e6ecf4" text-anchor="end" font-weight="normal" stroke="#e6ecf4" stroke-width="0.3">R13</text>
<rect x="510.25" y="271.89" width="20.70" height="10.30" fill="#f3f5f9" rx="1.4"/>
<rect x="511.75" y="273.39" width="17.70" height="7.30" fill="#22387a" />
<rect x="512.45" y="274.09" width="6.05" height="5.90" fill="#f6c535" />
<rect x="522.70" y="274.09" width="6.05" height="5.90" fill="#f6c535" />
<rect x="512.45" y="274.09" width="6.05" height="1.00" fill="#f9d858" />
<rect x="522.70" y="274.09" width="6.05" height="1.00" fill="#f9d858" />
<circle cx="520.60" cy="277.04" r="1.90" fill="#12142a" />
<text x="508.60" y="292.10" font-size="7.7" fill="#e6ecf4" text-anchor="end" font-weight="normal" stroke="#e6ecf4" stroke-width="0.3">R18</text>
<rect x="510.25" y="284.15" width="20.70" height="10.30" fill="#f3f5f9" rx="1.4"/>
<rect x="511.75" y="285.65" width="17.70" height="7.30" fill="#22387a" />
<rect x="512.45" y="286.35" width="6.05" height="5.90" fill="#f6c535" />
<rect x="522.70" y="286.35" width="6.05" height="5.90" fill="#f6c535" />
<rect x="512.45" y="286.35" width="6.05" height="1.00" fill="#f9d858" />
<rect x="522.70" y="286.35" width="6.05" height="1.00" fill="#f9d858" />
<circle cx="520.60" cy="289.30" r="1.90" fill="#12142a" />
<text x="508.60" y="304.36" font-size="7.7" fill="#e6ecf4" text-anchor="end" font-weight="normal" stroke="#e6ecf4" stroke-width="0.3">R14</text>
<rect x="510.25" y="296.41" width="20.70" height="10.30" fill="#f3f5f9" rx="1.4"/>
<rect x="511.75" y="297.91" width="17.70" height="7.30" fill="#22387a" />
<rect x="512.45" y="298.61" width="6.05" height="5.90" fill="#f6c535" />
<rect x="522.70" y="298.61" width="6.05" height="5.90" fill="#f6c535" />
<rect x="512.45" y="298.61" width="6.05" height="1.00" fill="#f9d858" />
<rect x="522.70" y="298.61" width="6.05" height="1.00" fill="#f9d858" />
<circle cx="520.60" cy="301.56" r="1.90" fill="#12142a" />
<text x="508.60" y="316.62" font-size="7.7" fill="#e6ecf4" text-anchor="end" font-weight="normal" stroke="#e6ecf4" stroke-width="0.3">R17</text>
<rect x="510.25" y="308.67" width="20.70" height="10.30" fill="#f3f5f9" rx="1.4"/>
<rect x="511.75" y="310.17" width="17.70" height="7.30" fill="#22387a" />
<rect x="512.45" y="310.87" width="6.05" height="5.90" fill="#f6c535" />
<rect x="522.70" y="310.87" width="6.05" height="5.90" fill="#f6c535" />
<rect x="512.45" y="310.87" width="6.05" height="1.00" fill="#f9d858" />
<rect x="522.70" y="310.87" width="6.05" height="1.00" fill="#f9d858" />
<circle cx="520.60" cy="313.82" r="1.90" fill="#12142a" />
<text x="508.60" y="328.88" font-size="7.7" fill="#e6ecf4" text-anchor="end" font-weight="normal" stroke="#e6ecf4" stroke-width="0.3">R16</text>
<rect x="510.25" y="320.93" width="20.70" height="10.30" fill="#f3f5f9" rx="1.4"/>
<rect x="511.75" y="322.43" width="17.70" height="7.30" fill="#22387a" />
<rect x="512.45" y="323.13" width="6.05" height="5.90" fill="#f6c535" />
<rect x="522.70" y="323.13" width="6.05" height="5.90" fill="#f6c535" />
<rect x="512.45" y="323.13" width="6.05" height="1.00" fill="#f9d858" />
<rect x="522.70" y="323.13" width="6.05" height="1.00" fill="#f9d858" />
<circle cx="520.60" cy="326.08" r="1.90" fill="#12142a" />
<text x="508.60" y="341.14" font-size="7.7" fill="#e6ecf4" text-anchor="end" font-weight="normal" stroke="#e6ecf4" stroke-width="0.3">R15</text>
<rect x="510.25" y="333.19" width="20.70" height="10.30" fill="#f3f5f9" rx="1.4"/>
<rect x="511.75" y="334.69" width="17.70" height="7.30" fill="#22387a" />
<rect x="512.45" y="335.39" width="6.05" height="5.90" fill="#f6c535" />
<rect x="522.70" y="335.39" width="6.05" height="5.90" fill="#f6c535" />
<rect x="512.45" y="335.39" width="6.05" height="1.00" fill="#f9d858" />
<rect x="522.70" y="335.39" width="6.05" height="1.00" fill="#f9d858" />
<circle cx="520.60" cy="338.34" r="1.90" fill="#12142a" />
<rect x="536.00" y="224.30" width="5.80" height="8.70" fill="#eef2f7" rx="0.7"/>
<text transform="translate(538.90,228.65) rotate(-90)" x="0" y="2.25" font-size="6.28" fill="#1f3156" text-anchor="middle" font-weight="bold" textLength="7.70" lengthAdjust="spacingAndGlyphs">5V</text>
<rect x="536.00" y="239.80" width="5.80" height="14.70" fill="#eef2f7" rx="0.7"/>
<text transform="translate(538.90,247.15) rotate(-90)" x="0" y="2.25" font-size="6.28" fill="#1f3156" text-anchor="middle" font-weight="bold" textLength="13.70" lengthAdjust="spacingAndGlyphs">PD#</text>
<rect x="536.00" y="257.50" width="5.80" height="14.20" fill="#eef2f7" rx="0.7"/>
<text transform="translate(538.90,264.60) rotate(-90)" x="0" y="2.25" font-size="6.28" fill="#1f3156" text-anchor="middle" font-weight="bold" textLength="13.20" lengthAdjust="spacingAndGlyphs">INT#</text>
<rect x="536.00" y="276.20" width="5.80" height="15.20" fill="#eef2f7" rx="0.7"/>
<text transform="translate(538.90,283.80) rotate(-90)" x="0" y="2.25" font-size="6.28" fill="#1f3156" text-anchor="middle" font-weight="bold" textLength="14.20" lengthAdjust="spacingAndGlyphs">CS#</text>
<rect x="536.00" y="292.60" width="5.80" height="16.40" fill="#eef2f7" rx="0.7"/>
<text transform="translate(538.90,300.80) rotate(-90)" x="0" y="2.25" font-size="6.28" fill="#1f3156" text-anchor="middle" font-weight="bold" textLength="15.40" lengthAdjust="spacingAndGlyphs">MISO</text>
<rect x="536.00" y="310.00" width="5.80" height="16.60" fill="#eef2f7" rx="0.7"/>
<text transform="translate(538.90,318.30) rotate(-90)" x="0" y="2.25" font-size="6.28" fill="#1f3156" text-anchor="middle" font-weight="bold" textLength="15.60" lengthAdjust="spacingAndGlyphs">MOSI</text>
<rect x="536.00" y="331.00" width="5.80" height="14.40" fill="#eef2f7" rx="0.7"/>
<text transform="translate(538.90,338.20) rotate(-90)" x="0" y="2.25" font-size="6.28" fill="#1f3156" text-anchor="middle" font-weight="bold" textLength="13.40" lengthAdjust="spacingAndGlyphs">SCK</text>
<rect x="535.60" y="166.30" width="5.20" height="16.10" fill="#eef2f7" rx="0.7"/>
<text transform="translate(538.20,174.35) rotate(-90)" x="0" y="1.95" font-size="5.45" fill="#1f3156" text-anchor="middle" font-weight="bold" textLength="15.10" lengthAdjust="spacingAndGlyphs">GND</text>
<rect x="535.60" y="182.60" width="5.20" height="16.40" fill="#eef2f7" rx="0.7"/>
<text transform="translate(538.20,190.80) rotate(-90)" x="0" y="1.95" font-size="5.45" fill="#1f3156" text-anchor="middle" font-weight="bold" textLength="15.40" lengthAdjust="spacingAndGlyphs">GND</text>
<text transform="translate(550.20,148.60) rotate(-90)" x="0" y="2.58" font-size="7.2" fill="#e6ecf4" text-anchor="middle" font-weight="normal" stroke="#e6ecf4" stroke-width="0.3">CN15</text>
<rect x="541.9" y="161.9" width="20.4" height="188.2" fill="#213a7c" stroke="#f4f6fa" stroke-width="1.5"/>
<rect x="562.40" y="161.40" width="64.40" height="189.20" fill="#313133" />
<rect x="562.40" y="161.40" width="64.40" height="1.20" fill="#3d3d40" />
<circle cx="551.00" cy="172.90" r="7.00" fill="#f2b829" />
<circle cx="551.00" cy="172.90" r="7.00" fill="none" stroke="#d39a16" stroke-width="0.7"/>
<circle cx="551.20" cy="172.90" r="4.50" fill="#3a3322" />
<circle cx="551.80" cy="172.90" r="3.50" fill="#c6cadb" />
<rect x="551.80" y="170.50" width="11.60" height="4.80" fill="#bcc0d0" />
<rect x="551.80" y="170.50" width="11.60" height="1.50" fill="#dfe1ea" />
<circle cx="551.00" cy="191.32" r="7.00" fill="#f2b829" />
<circle cx="551.00" cy="191.32" r="7.00" fill="none" stroke="#d39a16" stroke-width="0.7"/>
<circle cx="551.20" cy="191.32" r="4.50" fill="#3a3322" />
<circle cx="551.80" cy="191.32" r="3.50" fill="#c6cadb" />
<rect x="551.80" y="188.92" width="11.60" height="4.80" fill="#bcc0d0" />
<rect x="551.80" y="188.92" width="11.60" height="1.50" fill="#dfe1ea" />
<circle cx="551.00" cy="209.74" r="7.00" fill="#f2b829" />
<circle cx="551.00" cy="209.74" r="7.00" fill="none" stroke="#d39a16" stroke-width="0.7"/>
<circle cx="551.20" cy="209.74" r="4.50" fill="#3a3322" />
<circle cx="551.80" cy="209.74" r="3.50" fill="#c6cadb" />
<rect x="551.80" y="207.34" width="11.60" height="4.80" fill="#bcc0d0" />
<rect x="551.80" y="207.34" width="11.60" height="1.50" fill="#dfe1ea" />
<circle cx="551.00" cy="228.16" r="7.00" fill="#f2b829" />
<circle cx="551.00" cy="228.16" r="7.00" fill="none" stroke="#d39a16" stroke-width="0.7"/>
<circle cx="551.20" cy="228.16" r="4.50" fill="#3a3322" />
<circle cx="551.80" cy="228.16" r="3.50" fill="#c6cadb" />
<rect x="551.80" y="225.76" width="11.60" height="4.80" fill="#bcc0d0" />
<rect x="551.80" y="225.76" width="11.60" height="1.50" fill="#dfe1ea" />
<circle cx="551.00" cy="246.58" r="7.00" fill="#f2b829" />
<circle cx="551.00" cy="246.58" r="7.00" fill="none" stroke="#d39a16" stroke-width="0.7"/>
<circle cx="551.20" cy="246.58" r="4.50" fill="#3a3322" />
<circle cx="551.80" cy="246.58" r="3.50" fill="#c6cadb" />
<rect x="551.80" y="244.18" width="11.60" height="4.80" fill="#bcc0d0" />
<rect x="551.80" y="244.18" width="11.60" height="1.50" fill="#dfe1ea" />
<circle cx="551.00" cy="265.00" r="7.00" fill="#f2b829" />
<circle cx="551.00" cy="265.00" r="7.00" fill="none" stroke="#d39a16" stroke-width="0.7"/>
<circle cx="551.20" cy="265.00" r="4.50" fill="#3a3322" />
<circle cx="551.80" cy="265.00" r="3.50" fill="#c6cadb" />
<rect x="551.80" y="262.60" width="11.60" height="4.80" fill="#bcc0d0" />
<rect x="551.80" y="262.60" width="11.60" height="1.50" fill="#dfe1ea" />
<circle cx="551.00" cy="283.42" r="7.00" fill="#f2b829" />
<circle cx="551.00" cy="283.42" r="7.00" fill="none" stroke="#d39a16" stroke-width="0.7"/>
<circle cx="551.20" cy="283.42" r="4.50" fill="#3a3322" />
<circle cx="551.80" cy="283.42" r="3.50" fill="#c6cadb" />
<rect x="551.80" y="281.02" width="11.60" height="4.80" fill="#bcc0d0" />
<rect x="551.80" y="281.02" width="11.60" height="1.50" fill="#dfe1ea" />
<circle cx="551.00" cy="301.84" r="7.00" fill="#f2b829" />
<circle cx="551.00" cy="301.84" r="7.00" fill="none" stroke="#d39a16" stroke-width="0.7"/>
<circle cx="551.20" cy="301.84" r="4.50" fill="#3a3322" />
<circle cx="551.80" cy="301.84" r="3.50" fill="#c6cadb" />
<rect x="551.80" y="299.44" width="11.60" height="4.80" fill="#bcc0d0" />
<rect x="551.80" y="299.44" width="11.60" height="1.50" fill="#dfe1ea" />
<circle cx="551.00" cy="320.26" r="7.00" fill="#f2b829" />
<circle cx="551.00" cy="320.26" r="7.00" fill="none" stroke="#d39a16" stroke-width="0.7"/>
<circle cx="551.20" cy="320.26" r="4.50" fill="#3a3322" />
<circle cx="551.80" cy="320.26" r="3.50" fill="#c6cadb" />
<rect x="551.80" y="317.86" width="11.60" height="4.80" fill="#bcc0d0" />
<rect x="551.80" y="317.86" width="11.60" height="1.50" fill="#dfe1ea" />
<rect x="544.20" y="331.68" width="14.40" height="14.20" fill="#f2b829" />
<rect x="547.00" y="334.28" width="8.60" height="8.80" fill="#3a3322" rx="1"/>
<circle cx="551.80" cy="338.68" r="3.50" fill="#c6cadb" />
<rect x="551.80" y="336.28" width="11.60" height="4.80" fill="#bcc0d0" />
<rect x="551.80" y="336.28" width="11.60" height="1.50" fill="#dfe1ea" />
<text x="550.60" y="357.80" font-size="5.2" fill="#e6ecf4" text-anchor="middle" font-weight="bold" stroke="#e6ecf4" stroke-width="0.3">1</text>
<rect x="542.60" y="386.20" width="13.80" height="5.40" fill="#f2b829" />
<rect x="515.80" y="398.65" width="12.00" height="4.00" fill="#f2b829" />
<rect x="522.00" y="398.95" width="5.00" height="3.40" fill="#eddfa8" />
<rect x="515.80" y="406.45" width="12.00" height="4.00" fill="#f2b829" />
<rect x="522.00" y="406.75" width="5.00" height="3.40" fill="#eddfa8" />
<rect x="515.80" y="413.65" width="12.00" height="4.00" fill="#f2b829" />
<rect x="522.00" y="413.95" width="5.00" height="3.40" fill="#eddfa8" />
<rect x="515.80" y="421.35" width="12.00" height="4.00" fill="#f2b829" />
<rect x="522.00" y="421.65" width="5.00" height="3.40" fill="#eddfa8" />
<rect x="525.60" y="390.20" width="32.60" height="46.40" fill="#f0e9ae" />
<rect x="525.60" y="390.20" width="32.60" height="46.40" fill="none" stroke="#d7ca96" stroke-width="0.9"/>
<rect x="530.80" y="393.20" width="1.00" height="40.40" fill="#ddd59e" />
<rect x="536.20" y="390.80" width="1.00" height="45.20" fill="#ddd59e" />
<rect x="525.60" y="393.20" width="5.20" height="0.90" fill="#ddd59e" />
<rect x="525.60" y="432.80" width="5.20" height="0.90" fill="#ddd59e" />
<rect x="537.20" y="391.20" width="20.60" height="44.40" fill="#f7f2bc" />
<rect x="495.00" y="396.90" width="19.80" height="6.90" fill="#eef2f7" rx="0.7"/>
<text x="504.90" y="402.65" font-size="6.42" fill="#1f3156" text-anchor="middle" font-weight="bold" textLength="18.60" lengthAdjust="spacingAndGlyphs" >§SCL</text>
<rect x="495.00" y="405.00" width="19.80" height="6.30" fill="#eef2f7" rx="0.7"/>
<text x="504.90" y="410.15" font-size="5.59" fill="#1f3156" text-anchor="middle" font-weight="bold" textLength="18.60" lengthAdjust="spacingAndGlyphs" >©SDA</text>
<rect x="495.00" y="412.50" width="15.80" height="5.70" fill="#eef2f7" rx="0.7"/>
<text x="502.90" y="417.05" font-size="4.75" fill="#1f3156" text-anchor="middle" font-weight="bold" textLength="14.60" lengthAdjust="spacingAndGlyphs" >3.3V</text>
<rect x="495.00" y="419.80" width="15.80" height="6.50" fill="#eef2f7" rx="0.7"/>
<text x="502.90" y="425.15" font-size="5.87" fill="#1f3156" text-anchor="middle" font-weight="bold" textLength="14.60" lengthAdjust="spacingAndGlyphs" >GND</text>
<circle cx="512.70" cy="423.05" r="1.60" fill="#f4f6fa" />
<text x="547.60" y="385.00" font-size="7.2" fill="#e6ecf4" text-anchor="middle" font-weight="normal" stroke="#e6ecf4" stroke-width="0.3">CN4</text>
<rect x="542.60" y="443.40" width="13.80" height="5.40" fill="#f2b829" />
<rect x="515.80" y="457.35" width="12.00" height="4.00" fill="#f2b829" />
<rect x="522.00" y="457.65" width="5.00" height="3.40" fill="#eddfa8" />
<rect x="515.80" y="464.50" width="12.00" height="4.00" fill="#f2b829" />
<rect x="522.00" y="464.80" width="5.00" height="3.40" fill="#eddfa8" />
<rect x="515.80" y="471.80" width="12.00" height="4.00" fill="#f2b829" />
<rect x="522.00" y="472.10" width="5.00" height="3.40" fill="#eddfa8" />
<rect x="515.80" y="478.95" width="12.00" height="4.00" fill="#f2b829" />
<rect x="522.00" y="479.25" width="5.00" height="3.40" fill="#eddfa8" />
<rect x="525.60" y="447.40" width="32.60" height="47.40" fill="#f0e9ae" />
<rect x="525.60" y="447.40" width="32.60" height="47.40" fill="none" stroke="#d7ca96" stroke-width="0.9"/>
<rect x="530.80" y="450.40" width="1.00" height="41.40" fill="#ddd59e" />
<rect x="536.20" y="448.00" width="1.00" height="46.20" fill="#ddd59e" />
<rect x="525.60" y="450.40" width="5.20" height="0.90" fill="#ddd59e" />
<rect x="525.60" y="491.00" width="5.20" height="0.90" fill="#ddd59e" />
<rect x="537.20" y="448.40" width="20.60" height="45.40" fill="#f7f2bc" />
<rect x="495.00" y="455.60" width="19.80" height="6.90" fill="#eef2f7" rx="0.7"/>
<text x="504.90" y="461.35" font-size="6.42" fill="#1f3156" text-anchor="middle" font-weight="bold" textLength="18.60" lengthAdjust="spacingAndGlyphs" >§SCL</text>
<rect x="495.00" y="463.00" width="19.80" height="6.40" fill="#eef2f7" rx="0.7"/>
<text x="504.90" y="468.25" font-size="5.73" fill="#1f3156" text-anchor="middle" font-weight="bold" textLength="18.60" lengthAdjust="spacingAndGlyphs" >©SDA</text>
<rect x="495.00" y="470.60" width="15.80" height="5.80" fill="#eef2f7" rx="0.7"/>
<text x="502.90" y="475.25" font-size="4.89" fill="#1f3156" text-anchor="middle" font-weight="bold" textLength="14.60" lengthAdjust="spacingAndGlyphs" >3.3V</text>
<rect x="495.00" y="477.50" width="15.80" height="6.30" fill="#eef2f7" rx="0.7"/>
<text x="502.90" y="482.65" font-size="5.59" fill="#1f3156" text-anchor="middle" font-weight="bold" textLength="14.60" lengthAdjust="spacingAndGlyphs" >GND</text>
<circle cx="512.70" cy="480.65" r="1.60" fill="#f4f6fa" />
<text x="547.60" y="504.40" font-size="7.2" fill="#e6ecf4" text-anchor="middle" font-weight="normal" stroke="#e6ecf4" stroke-width="0.3">CN7</text>
</svg></body></html>
